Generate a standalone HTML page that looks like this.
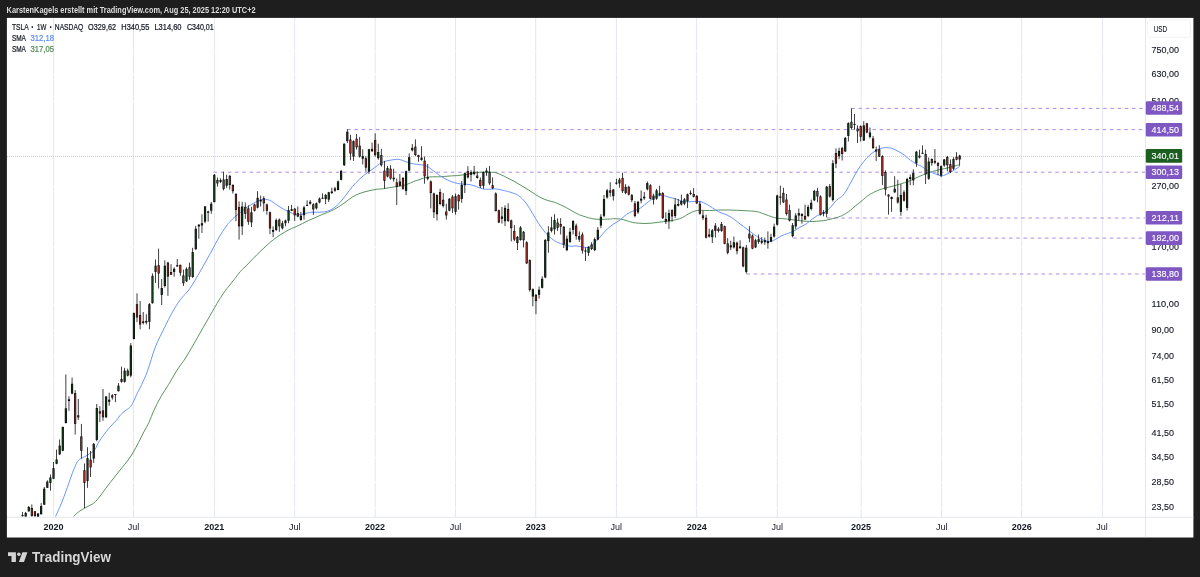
<!DOCTYPE html>
<html lang="de"><head><meta charset="utf-8"><title>TSLA 1W NASDAQ – TradingView</title>
<style>
html,body{margin:0;padding:0;background:#1e1e1e;}
body{width:1200px;height:577px;overflow:hidden;position:relative;font-family:"Liberation Sans", sans-serif;}
</style></head><body>
<svg width="1200" height="577" viewBox="0 0 1200 577" style="position:absolute;left:0;top:0">
<rect x="6.9" y="17.9" width="1186.5" height="519.6" fill="#fff"/>
<line x1="53.6" y1="18" x2="53.6" y2="517" stroke="#e5e7ef" stroke-width="1"/>
<line x1="133.5" y1="18" x2="133.5" y2="517" stroke="#e5e7ef" stroke-width="1"/>
<line x1="214.4" y1="18" x2="214.4" y2="517" stroke="#e5e7ef" stroke-width="1"/>
<line x1="294.7" y1="18" x2="294.7" y2="517" stroke="#e5e7ef" stroke-width="1"/>
<line x1="375.2" y1="18" x2="375.2" y2="517" stroke="#e5e7ef" stroke-width="1"/>
<line x1="455.5" y1="18" x2="455.5" y2="517" stroke="#e5e7ef" stroke-width="1"/>
<line x1="535.7" y1="18" x2="535.7" y2="517" stroke="#e5e7ef" stroke-width="1"/>
<line x1="616.4" y1="18" x2="616.4" y2="517" stroke="#e5e7ef" stroke-width="1"/>
<line x1="696.7" y1="18" x2="696.7" y2="517" stroke="#e5e7ef" stroke-width="1"/>
<line x1="777.3" y1="18" x2="777.3" y2="517" stroke="#e5e7ef" stroke-width="1"/>
<line x1="861.2" y1="18" x2="861.2" y2="517" stroke="#e5e7ef" stroke-width="1"/>
<line x1="941.6" y1="18" x2="941.6" y2="517" stroke="#e5e7ef" stroke-width="1"/>
<line x1="1021.6" y1="18" x2="1021.6" y2="517" stroke="#e5e7ef" stroke-width="1"/>
<line x1="1102.4" y1="18" x2="1102.4" y2="517" stroke="#e5e7ef" stroke-width="1"/>
<line x1="7" y1="51.0" x2="1145" y2="51.0" stroke="#fff" stroke-width="0.9"/>
<line x1="7" y1="74.4" x2="1145" y2="74.4" stroke="#fff" stroke-width="0.9"/>
<line x1="7" y1="101.6" x2="1145" y2="101.6" stroke="#fff" stroke-width="0.9"/>
<line x1="7" y1="186.5" x2="1145" y2="186.5" stroke="#fff" stroke-width="0.9"/>
<line x1="7" y1="247.4" x2="1145" y2="247.4" stroke="#fff" stroke-width="0.9"/>
<line x1="7" y1="304.5" x2="1145" y2="304.5" stroke="#fff" stroke-width="0.9"/>
<line x1="7" y1="330.6" x2="1145" y2="330.6" stroke="#fff" stroke-width="0.9"/>
<line x1="7" y1="356.6" x2="1145" y2="356.6" stroke="#fff" stroke-width="0.9"/>
<line x1="7" y1="381.0" x2="1145" y2="381.0" stroke="#fff" stroke-width="0.9"/>
<line x1="7" y1="404.4" x2="1145" y2="404.4" stroke="#fff" stroke-width="0.9"/>
<line x1="7" y1="433.5" x2="1145" y2="433.5" stroke="#fff" stroke-width="0.9"/>
<line x1="7" y1="457.5" x2="1145" y2="457.5" stroke="#fff" stroke-width="0.9"/>
<line x1="7" y1="482.4" x2="1145" y2="482.4" stroke="#fff" stroke-width="0.9"/>
<line x1="7" y1="507.7" x2="1145" y2="507.7" stroke="#fff" stroke-width="0.9"/>
<line x1="7" y1="517.3" x2="1193.5" y2="517.3" stroke="#dcdfe8" stroke-width="0.8"/>
<line x1="1145.5" y1="18" x2="1145.5" y2="537.5" stroke="#dcdfe8" stroke-width="0.8"/>
<defs><clipPath id="cp"><rect x="7" y="18" width="1139" height="499"/></clipPath></defs>
<g clip-path="url(#cp)">
<line x1="851.4" y1="108.4" x2="1145" y2="108.4" stroke="#a98de3" stroke-width="1" stroke-dasharray="3.5 3.695"/>
<line x1="347.2" y1="129.6" x2="1145" y2="129.6" stroke="#a98de3" stroke-width="1" stroke-dasharray="3.5 3.695"/>
<line x1="213.5" y1="172.2" x2="1145" y2="172.2" stroke="#a98de3" stroke-width="1" stroke-dasharray="3.5 3.695"/>
<line x1="827.0" y1="218.0" x2="1145" y2="218.0" stroke="#a98de3" stroke-width="1" stroke-dasharray="3.5 3.695"/>
<line x1="793.2" y1="238.1" x2="1145" y2="238.1" stroke="#a98de3" stroke-width="1" stroke-dasharray="3.5 3.695"/>
<line x1="746.5" y1="274.0" x2="1145" y2="274.0" stroke="#a98de3" stroke-width="1" stroke-dasharray="3.5 3.695"/>
<line x1="7" y1="156.5" x2="1146" y2="156.5" stroke="#ffc480" stroke-width="1" stroke-dasharray="1 1"/>
<path d="M73.7,516.3 C74.7,515.4 77.7,512.5 79.5,511.2 C81.3,509.9 82.9,509.2 84.6,508.2 C86.3,507.2 88.2,506.2 89.9,505.3 C91.6,504.4 92.8,504.2 94.5,502.6 C96.2,501.1 98.0,498.8 100.2,496.0 C102.4,493.2 105.1,489.2 107.5,486.0 C109.9,482.8 112.3,479.9 114.6,477.0 C116.9,474.1 119.0,471.3 121.3,468.5 C123.6,465.7 126.2,462.8 128.2,460.0 C130.2,457.2 131.7,454.9 133.4,452.0 C135.1,449.1 136.9,445.6 138.6,442.3 C140.3,439.0 142.1,435.3 143.8,432.0 C145.5,428.7 147.3,426.0 149.0,422.4 C150.7,418.8 151.8,414.8 153.8,410.5 C155.8,406.2 158.5,400.8 161.0,396.5 C163.5,392.2 165.9,388.9 168.6,384.5 C171.3,380.1 174.4,374.2 177.1,370.0 C179.8,365.8 182.6,362.6 184.9,359.0 C187.2,355.4 189.0,352.2 191.1,348.7 C193.2,345.1 195.3,341.3 197.4,337.7 C199.5,334.1 201.5,330.4 203.6,326.8 C205.7,323.2 208.0,319.1 209.9,315.9 C211.8,312.6 213.2,310.0 214.8,307.3 C216.4,304.6 217.4,302.6 219.2,299.8 C221.0,297.0 223.7,292.8 225.5,290.3 C227.3,287.8 228.6,286.6 230.0,284.8 C231.4,283.0 232.4,281.6 234.2,279.4 C235.9,277.2 238.7,273.5 240.5,271.4 C242.3,269.3 242.9,269.1 245.0,267.0 C247.1,264.9 250.4,261.3 253.0,258.7 C255.6,256.1 258.0,253.6 260.4,251.3 C262.8,249.0 265.2,246.8 267.4,244.8 C269.6,242.8 271.5,241.1 273.6,239.5 C275.7,237.9 277.8,236.5 279.9,235.1 C282.0,233.7 284.2,232.4 286.1,231.3 C288.0,230.2 289.8,229.3 291.5,228.5 C293.2,227.7 294.4,227.4 296.2,226.6 C298.0,225.8 300.4,224.5 302.5,223.5 C304.6,222.5 306.6,221.4 308.7,220.4 C310.8,219.4 312.9,218.6 315.0,217.7 C317.1,216.8 319.1,215.8 321.2,214.9 C323.3,214.0 325.4,213.3 327.5,212.4 C329.6,211.5 331.6,210.8 333.7,209.7 C335.8,208.6 337.8,207.3 339.9,206.0 C342.0,204.7 344.1,203.1 346.2,201.6 C348.3,200.1 350.3,198.3 352.4,197.0 C354.5,195.7 356.6,194.8 358.7,193.9 C360.8,193.0 362.8,192.4 364.9,191.8 C367.0,191.2 369.0,190.7 371.1,190.3 C373.2,189.9 375.3,189.5 377.4,189.2 C379.5,188.9 381.5,189.0 383.6,188.7 C385.7,188.4 387.8,187.9 389.9,187.6 C392.0,187.3 394.0,187.0 396.1,186.7 C398.2,186.4 400.5,186.0 402.4,185.6 C404.3,185.2 405.6,184.9 407.5,184.2 C409.4,183.5 411.6,182.3 413.7,181.5 C415.8,180.7 417.9,180.2 420.0,179.5 C422.1,178.8 424.1,177.8 426.2,177.4 C428.3,177.0 430.4,176.9 432.5,176.8 C434.6,176.7 436.6,176.9 438.7,176.8 C440.8,176.7 442.8,176.6 444.9,176.4 C447.0,176.2 449.1,176.0 451.2,175.9 C453.3,175.8 455.3,175.8 457.4,175.6 C459.5,175.4 461.6,175.1 463.7,174.8 C465.8,174.5 467.8,174.0 469.9,173.7 C472.0,173.4 474.0,173.1 476.1,172.8 C478.2,172.5 480.3,172.2 482.4,172.1 C484.5,172.0 486.5,172.0 488.6,172.1 C490.7,172.2 492.8,172.1 494.9,172.5 C497.0,172.9 499.0,173.9 501.1,174.8 C503.2,175.7 505.1,176.7 507.4,177.9 C509.7,179.1 512.6,180.5 515.0,181.8 C517.4,183.2 519.7,184.6 522.0,186.0 C524.3,187.4 526.3,188.6 528.6,190.0 C530.9,191.4 533.4,193.3 535.6,194.7 C537.8,196.0 539.7,197.1 541.8,198.1 C543.9,199.1 546.0,199.9 548.1,200.6 C550.2,201.3 552.2,201.5 554.3,202.2 C556.4,202.9 558.4,203.9 560.5,204.8 C562.6,205.8 564.7,206.8 566.8,207.9 C568.9,209.0 570.9,210.4 573.0,211.5 C575.1,212.6 577.2,213.8 579.3,214.7 C581.4,215.6 583.4,216.2 585.5,216.8 C587.6,217.5 589.7,218.2 591.8,218.6 C593.9,219.0 595.9,219.2 598.0,219.3 C600.1,219.4 602.1,219.4 604.2,219.3 C606.3,219.2 608.9,219.1 610.5,219.0 C612.1,218.9 612.1,218.7 613.7,218.7 C615.3,218.7 617.9,218.7 620.0,219.0 C622.1,219.3 624.1,219.9 626.2,220.5 C628.3,221.1 630.4,222.0 632.5,222.4 C634.6,222.8 636.6,223.0 638.7,223.2 C640.8,223.4 642.8,223.5 644.9,223.5 C647.0,223.5 649.1,223.4 651.2,223.2 C653.3,223.0 655.3,222.7 657.4,222.4 C659.5,222.1 661.6,221.8 663.7,221.6 C665.8,221.3 667.8,221.2 669.9,220.9 C672.0,220.6 674.0,220.2 676.1,219.6 C678.2,219.0 680.3,218.6 682.4,217.6 C684.5,216.6 686.5,214.9 688.6,213.8 C690.7,212.7 692.8,211.6 694.9,211.0 C697.0,210.4 698.7,210.4 701.1,210.3 C703.5,210.2 706.5,210.7 709.4,210.6 C712.3,210.5 715.6,210.1 718.7,210.0 C721.8,209.9 725.0,209.9 728.1,210.0 C731.2,210.1 734.4,210.2 737.5,210.3 C740.6,210.4 743.7,210.6 746.8,210.8 C749.9,211.0 753.6,211.1 756.2,211.5 C758.8,211.9 760.3,212.7 762.4,213.4 C764.5,214.1 766.6,215.0 768.7,215.7 C770.8,216.4 772.8,217.3 774.9,217.8 C777.0,218.3 779.0,218.3 781.1,218.5 C783.2,218.7 785.3,218.9 787.4,219.1 C789.5,219.3 791.5,219.6 793.6,219.9 C795.7,220.2 797.8,220.5 799.9,220.7 C802.0,220.9 804.0,221.2 806.1,221.3 C808.2,221.4 810.1,221.6 812.4,221.5 C814.7,221.4 817.6,221.2 819.9,221.0 C822.2,220.8 824.1,220.6 826.2,220.2 C828.3,219.8 830.4,219.2 832.4,218.7 C834.4,218.2 836.8,217.6 838.5,217.0 C840.2,216.4 841.1,216.1 842.5,215.4 C843.9,214.7 845.3,213.8 846.7,212.9 C848.1,212.0 849.4,211.1 850.8,210.0 C852.2,208.9 853.6,207.5 855.0,206.3 C856.4,205.1 857.8,204.0 859.2,202.9 C860.6,201.8 861.9,200.8 863.3,199.6 C864.7,198.4 866.1,197.0 867.5,196.0 C868.9,195.0 870.3,194.2 871.7,193.4 C873.1,192.6 874.2,192.0 876.0,191.2 C877.8,190.4 880.3,189.5 882.4,188.8 C884.5,188.1 886.6,187.7 888.7,187.2 C890.8,186.7 892.9,186.2 895.0,185.6 C897.1,185.0 899.1,184.3 901.2,183.7 C903.3,183.1 905.4,182.6 907.5,181.8 C909.6,181.0 911.6,179.9 913.7,179.0 C915.8,178.1 917.8,177.1 919.9,176.2 C922.0,175.3 924.1,174.4 926.2,173.6 C928.3,172.8 930.3,172.1 932.4,171.5 C934.5,170.9 936.6,170.4 938.7,169.9 C940.8,169.4 942.8,169.1 944.9,168.6 C947.0,168.1 949.0,167.6 951.1,167.0 C953.2,166.4 956.0,165.7 957.4,165.3 C958.8,164.9 959.3,164.9 959.7,164.8" fill="none" stroke="#5a9460" stroke-width="1" stroke-linejoin="round"/>
<path d="M55.6,516.5 C56.7,513.9 60.2,506.4 62.4,500.9 C64.6,495.4 66.8,488.7 68.7,483.5 C70.6,478.3 72.2,473.3 73.7,469.7 C75.2,466.1 76.2,463.5 77.4,461.6 C78.7,459.7 80.0,459.3 81.2,458.5 C82.5,457.7 83.5,457.4 84.9,456.6 C86.4,455.8 88.2,454.7 89.9,453.5 C91.6,452.3 93.3,451.5 94.9,449.4 C96.5,447.3 97.0,444.6 99.3,441.1 C101.6,437.7 105.8,432.2 108.6,428.7 C111.4,425.2 114.4,422.6 116.4,420.3 C118.4,418.0 119.4,416.2 120.8,414.6 C122.2,413.0 123.8,411.8 125.0,410.8 C126.2,409.8 127.3,409.4 128.3,408.6 C129.3,407.8 130.0,407.3 130.8,406.2 C131.6,405.1 132.2,404.2 133.3,402.0 C134.4,399.8 136.1,395.7 137.5,392.8 C138.9,389.9 140.0,388.1 141.7,384.5 C143.4,380.9 145.2,377.2 147.5,371.0 C149.8,364.8 152.5,354.4 155.3,347.1 C158.2,339.8 161.8,333.2 164.6,327.4 C167.4,321.6 169.8,316.8 172.4,312.2 C175.0,307.6 177.6,303.3 180.2,299.8 C182.8,296.3 185.5,294.2 188.0,291.0 C190.5,287.8 192.5,284.4 195.0,280.3 C197.5,276.2 200.4,271.1 203.0,266.5 C205.6,261.9 208.2,257.2 210.8,252.5 C213.4,247.8 216.0,242.4 218.6,238.0 C221.2,233.6 224.5,228.7 226.4,226.0 C228.3,223.3 228.6,223.2 230.0,221.7 C231.4,220.1 233.2,218.3 235.0,216.7 C236.8,215.1 238.9,213.6 240.8,212.1 C242.8,210.6 245.0,208.7 246.7,207.5 C248.4,206.3 249.4,205.6 250.8,204.8 C252.2,204.0 253.6,203.2 255.0,202.5 C256.4,201.8 257.8,201.0 259.2,200.5 C260.6,200.0 261.9,199.5 263.3,199.3 C264.7,199.2 266.1,199.3 267.5,199.6 C268.9,199.9 270.3,200.5 271.7,201.3 C273.1,202.1 274.4,203.2 275.8,204.2 C277.2,205.1 278.6,206.1 280.0,207.0 C281.4,207.9 282.8,208.8 284.2,209.5 C285.6,210.2 286.9,210.7 288.3,211.4 C289.7,212.1 291.1,212.9 292.5,213.5 C293.9,214.1 295.3,214.5 296.7,214.7 C298.1,214.9 299.4,214.8 300.8,214.6 C302.2,214.4 303.6,213.8 305.0,213.5 C306.4,213.2 307.8,212.8 309.2,212.6 C310.6,212.4 311.3,212.3 313.3,212.2 C315.3,212.1 318.8,212.3 321.2,212.1 C323.6,211.9 325.4,211.9 327.5,211.2 C329.6,210.5 331.6,209.5 333.7,208.1 C335.8,206.7 337.8,204.8 339.9,202.6 C342.0,200.4 344.1,197.5 346.2,194.8 C348.3,192.1 350.3,189.0 352.4,186.5 C354.5,184.0 356.6,182.0 358.7,180.0 C360.8,178.0 362.8,176.1 364.9,174.5 C367.0,172.9 369.0,171.7 371.1,170.2 C373.2,168.7 375.6,166.8 377.4,165.5 C379.2,164.2 380.0,163.3 381.8,162.5 C383.6,161.7 385.9,161.1 388.0,160.6 C390.1,160.1 392.6,159.8 394.2,159.6 C395.8,159.4 396.4,159.3 397.5,159.3 C398.6,159.3 399.4,159.4 400.5,159.7 C401.6,160.0 402.7,160.5 404.0,161.0 C405.3,161.5 406.7,162.1 408.3,162.6 C409.9,163.1 411.8,163.6 413.7,163.9 C415.6,164.2 417.9,164.4 420.0,164.7 C422.1,165.0 424.1,165.0 426.2,165.9 C428.3,166.8 430.4,168.6 432.5,170.1 C434.6,171.6 436.6,173.4 438.7,174.8 C440.8,176.2 442.8,177.6 444.9,178.7 C447.0,179.8 449.1,180.7 451.2,181.5 C453.3,182.3 455.3,183.0 457.4,183.4 C459.5,183.8 461.6,184.0 463.7,184.2 C465.8,184.4 467.8,184.2 469.9,184.6 C472.0,185.0 474.0,185.8 476.1,186.5 C478.2,187.2 480.3,188.3 482.4,188.8 C484.5,189.3 486.5,189.3 488.6,189.3 C490.7,189.3 492.8,188.7 494.9,188.8 C497.0,188.9 499.0,189.5 501.1,189.9 C503.2,190.3 505.6,190.9 507.4,191.4 C509.2,191.9 510.2,192.1 512.0,192.8 C513.8,193.5 516.0,193.8 518.4,195.5 C520.8,197.2 523.9,200.3 526.2,203.3 C528.6,206.3 530.4,210.0 532.5,213.4 C534.6,216.8 536.6,220.5 538.7,223.6 C540.8,226.7 542.8,229.6 544.9,232.1 C547.0,234.6 549.1,236.7 551.2,238.4 C553.3,240.1 555.3,241.3 557.4,242.3 C559.5,243.3 561.6,243.9 563.7,244.6 C565.8,245.2 567.8,246.0 569.9,246.2 C572.0,246.4 574.0,245.8 576.1,245.9 C578.2,246.0 580.3,246.8 582.4,247.0 C584.5,247.2 586.5,247.8 588.6,247.0 C590.7,246.2 592.8,244.4 594.9,242.5 C597.0,240.6 599.0,238.1 601.1,235.8 C603.2,233.5 605.3,230.8 607.4,228.8 C609.5,226.8 611.6,225.4 613.7,224.0 C615.8,222.6 617.9,221.7 620.0,220.1 C622.1,218.5 624.1,216.1 626.2,214.6 C628.3,213.1 630.4,212.1 632.5,211.2 C634.6,210.3 636.6,210.3 638.7,209.2 C640.8,208.1 642.8,206.2 644.9,204.6 C647.0,203.0 649.1,201.0 651.2,199.6 C653.3,198.2 655.3,196.6 657.4,195.9 C659.5,195.2 661.6,195.3 663.7,195.6 C665.8,195.9 667.8,196.9 669.9,197.5 C672.0,198.1 674.0,198.3 676.1,199.0 C678.2,199.7 680.3,200.9 682.4,201.4 C684.5,201.9 686.5,201.8 688.6,201.8 C690.7,201.8 692.8,201.4 694.9,201.4 C697.0,201.4 699.2,201.4 701.1,201.8 C703.0,202.2 704.3,203.0 706.2,204.0 C708.1,205.0 710.4,206.6 712.5,207.9 C714.6,209.2 716.6,210.8 718.7,211.8 C720.8,212.9 722.9,213.3 725.0,214.2 C727.1,215.1 729.1,216.0 731.2,217.3 C733.3,218.6 735.4,220.4 737.5,222.0 C739.6,223.6 741.6,225.1 743.7,226.7 C745.8,228.3 747.8,229.8 749.9,231.4 C752.0,233.0 754.1,234.6 756.2,236.0 C758.3,237.4 760.3,238.7 762.4,239.6 C764.5,240.5 766.9,241.3 768.7,241.5 C770.5,241.7 771.2,241.4 773.3,240.5 C775.4,239.6 778.8,237.2 781.1,236.0 C783.5,234.8 785.3,234.4 787.4,233.6 C789.5,232.8 791.5,232.3 793.6,231.2 C795.7,230.1 797.8,228.4 799.9,227.2 C802.0,226.0 804.0,225.4 806.1,224.0 C808.2,222.6 810.5,220.4 812.4,219.0 C814.3,217.6 816.0,216.3 817.5,215.5 C819.0,214.7 820.5,214.6 821.7,214.0 C823.0,213.4 823.9,212.6 825.0,211.8 C826.1,211.1 827.2,210.5 828.3,209.5 C829.4,208.5 830.6,207.3 831.7,206.0 C832.8,204.7 833.9,203.1 835.0,201.9 C836.1,200.7 837.0,199.8 838.3,198.8 C839.5,197.8 841.1,197.4 842.5,195.9 C843.9,194.4 845.3,192.2 846.7,190.0 C848.1,187.8 849.4,185.0 850.8,182.5 C852.1,180.0 853.2,178.0 854.8,175.2 C856.4,172.4 858.5,168.7 860.5,165.8 C862.5,162.9 864.7,160.2 866.8,158.0 C868.9,155.8 870.9,154.0 873.0,152.5 C875.1,151.0 877.2,149.6 879.3,148.8 C881.4,148.0 883.4,147.7 885.5,147.6 C887.6,147.5 889.7,147.8 891.8,148.4 C893.9,149.0 895.9,150.1 898.0,151.2 C900.1,152.3 902.2,153.6 904.3,155.1 C906.4,156.6 908.4,158.8 910.5,160.3 C912.6,161.8 915.2,163.3 916.8,164.2 C918.4,165.1 919.0,165.1 920.0,165.6 C921.0,166.1 922.0,166.6 923.0,167.3 C924.0,168.0 925.0,169.1 926.0,169.8 C927.0,170.5 928.1,171.1 929.2,171.6 C930.3,172.1 931.4,172.3 932.4,172.7 C933.4,173.1 934.5,173.5 935.5,173.9 C936.5,174.3 937.7,174.9 938.7,175.2 C939.8,175.5 940.8,175.9 941.8,175.9 C942.8,175.9 944.0,175.3 945.0,174.9 C946.0,174.5 947.0,174.0 948.0,173.5 C949.0,173.0 950.1,172.5 951.1,171.9 C952.1,171.3 953.3,170.6 954.3,170.0 C955.3,169.4 956.1,168.8 957.0,168.2 C957.9,167.6 959.2,166.6 959.7,166.3" fill="none" stroke="#6a96ff" stroke-width="1" stroke-linejoin="round"/>
<rect x="22.17" y="511.9" width="0.8" height="4.6" fill="#111"/>
<rect x="21.47" y="515.1" width="2.2" height="1.0" fill="#0a0a0a"/>
<rect x="22.17" y="515.4" width="0.8" height="0.4" fill="#143f1a"/>
<rect x="25.27" y="511.9" width="0.8" height="4.6" fill="#111"/>
<rect x="24.57" y="512.9" width="2.2" height="3.6" fill="#0a0a0a"/>
<rect x="25.22" y="513.6" width="0.9" height="2.2" fill="#143f1a"/>
<rect x="28.36" y="506.0" width="0.8" height="5.6" fill="#111"/>
<rect x="27.66" y="507.0" width="2.2" height="4.3" fill="#0a0a0a"/>
<rect x="28.31" y="507.7" width="0.9" height="2.9" fill="#143f1a"/>
<rect x="31.45" y="504.4" width="0.8" height="12.2" fill="#111"/>
<rect x="30.75" y="508.0" width="2.2" height="7.9" fill="#0a0a0a"/>
<rect x="31.40" y="508.7" width="0.9" height="6.5" fill="#ad3128"/>
<rect x="34.54" y="511.0" width="0.8" height="5.4" fill="#111"/>
<rect x="33.84" y="511.3" width="2.2" height="4.9" fill="#0a0a0a"/>
<rect x="34.49" y="512.0" width="0.9" height="3.5" fill="#ad3128"/>
<rect x="37.64" y="512.9" width="0.8" height="3.7" fill="#111"/>
<rect x="36.94" y="513.6" width="2.2" height="3.0" fill="#0a0a0a"/>
<rect x="37.59" y="514.3" width="0.9" height="1.6" fill="#143f1a"/>
<rect x="40.73" y="503.1" width="0.8" height="11.5" fill="#111"/>
<rect x="40.03" y="506.0" width="2.2" height="8.2" fill="#0a0a0a"/>
<rect x="40.68" y="506.7" width="0.9" height="6.8" fill="#143f1a"/>
<rect x="43.82" y="486.9" width="0.8" height="18.0" fill="#111"/>
<rect x="43.12" y="488.7" width="2.2" height="16.0" fill="#0a0a0a"/>
<rect x="43.77" y="489.4" width="0.9" height="14.6" fill="#143f1a"/>
<rect x="46.91" y="480.3" width="0.8" height="7.7" fill="#111"/>
<rect x="46.21" y="481.6" width="2.2" height="6.2" fill="#0a0a0a"/>
<rect x="46.86" y="482.3" width="0.9" height="4.8" fill="#143f1a"/>
<rect x="50.01" y="474.5" width="0.8" height="16.1" fill="#111"/>
<rect x="49.31" y="477.5" width="2.2" height="5.4" fill="#0a0a0a"/>
<rect x="49.96" y="478.2" width="0.9" height="4.0" fill="#143f1a"/>
<rect x="53.10" y="462.0" width="0.8" height="17.0" fill="#111"/>
<rect x="52.40" y="468.2" width="2.2" height="10.5" fill="#0a0a0a"/>
<rect x="53.05" y="468.9" width="0.9" height="9.1" fill="#143f1a"/>
<rect x="56.19" y="449.6" width="0.8" height="14.6" fill="#111"/>
<rect x="55.49" y="459.5" width="2.2" height="4.3" fill="#0a0a0a"/>
<rect x="56.14" y="460.2" width="0.9" height="2.9" fill="#143f1a"/>
<rect x="59.29" y="439.5" width="0.8" height="15.6" fill="#111"/>
<rect x="58.59" y="445.6" width="2.2" height="8.7" fill="#0a0a0a"/>
<rect x="59.24" y="446.3" width="0.9" height="7.3" fill="#143f1a"/>
<rect x="62.38" y="426.5" width="0.8" height="24.8" fill="#111"/>
<rect x="61.68" y="427.0" width="2.2" height="23.7" fill="#0a0a0a"/>
<rect x="62.33" y="427.7" width="0.9" height="22.3" fill="#143f1a"/>
<rect x="65.47" y="374.5" width="0.8" height="49.0" fill="#111"/>
<rect x="64.77" y="408.3" width="2.2" height="14.7" fill="#0a0a0a"/>
<rect x="65.42" y="409.0" width="0.9" height="13.3" fill="#143f1a"/>
<rect x="68.56" y="396.2" width="0.8" height="14.7" fill="#111"/>
<rect x="67.86" y="399.3" width="2.2" height="1.7" fill="#0a0a0a"/>
<rect x="68.51" y="400.0" width="0.9" height="0.3" fill="#143f1a"/>
<rect x="71.66" y="377.5" width="0.8" height="16.6" fill="#111"/>
<rect x="70.96" y="383.7" width="2.2" height="9.9" fill="#0a0a0a"/>
<rect x="71.61" y="384.4" width="0.9" height="8.5" fill="#143f1a"/>
<rect x="74.75" y="390.1" width="0.8" height="44.5" fill="#111"/>
<rect x="74.05" y="393.1" width="2.2" height="30.8" fill="#0a0a0a"/>
<rect x="74.70" y="393.8" width="0.9" height="29.4" fill="#ad3128"/>
<rect x="77.84" y="398.8" width="0.8" height="21.3" fill="#111"/>
<rect x="77.14" y="415.3" width="2.2" height="2.1" fill="#0a0a0a"/>
<rect x="77.79" y="416.0" width="0.9" height="0.7" fill="#ad3128"/>
<rect x="80.93" y="423.9" width="0.8" height="34.7" fill="#111"/>
<rect x="80.23" y="436.4" width="2.2" height="14.4" fill="#0a0a0a"/>
<rect x="80.88" y="437.1" width="0.9" height="13.0" fill="#ad3128"/>
<rect x="84.03" y="463.5" width="0.8" height="44.6" fill="#111"/>
<rect x="83.33" y="470.3" width="2.2" height="12.5" fill="#0a0a0a"/>
<rect x="83.98" y="471.0" width="0.9" height="11.1" fill="#ad3128"/>
<rect x="87.12" y="447.2" width="0.8" height="40.6" fill="#111"/>
<rect x="86.42" y="458.1" width="2.2" height="22.8" fill="#0a0a0a"/>
<rect x="87.07" y="458.8" width="0.9" height="21.4" fill="#143f1a"/>
<rect x="90.21" y="451.0" width="0.8" height="26.0" fill="#111"/>
<rect x="89.51" y="459.7" width="2.2" height="7.7" fill="#0a0a0a"/>
<rect x="90.16" y="460.4" width="0.9" height="6.3" fill="#ad3128"/>
<rect x="93.31" y="443.0" width="0.8" height="19.9" fill="#111"/>
<rect x="92.61" y="443.9" width="2.2" height="14.7" fill="#0a0a0a"/>
<rect x="93.26" y="444.6" width="0.9" height="13.3" fill="#143f1a"/>
<rect x="96.40" y="404.0" width="0.8" height="37.3" fill="#111"/>
<rect x="95.70" y="408.0" width="2.2" height="31.9" fill="#0a0a0a"/>
<rect x="96.35" y="408.7" width="0.9" height="30.5" fill="#143f1a"/>
<rect x="99.49" y="406.2" width="0.8" height="15.9" fill="#111"/>
<rect x="98.79" y="411.4" width="2.2" height="2.1" fill="#0a0a0a"/>
<rect x="99.44" y="412.1" width="0.9" height="0.7" fill="#ad3128"/>
<rect x="102.58" y="388.9" width="0.8" height="31.9" fill="#111"/>
<rect x="101.88" y="410.4" width="2.2" height="6.9" fill="#0a0a0a"/>
<rect x="102.53" y="411.1" width="0.9" height="5.5" fill="#ad3128"/>
<rect x="105.68" y="396.2" width="0.8" height="21.7" fill="#111"/>
<rect x="104.98" y="396.5" width="2.2" height="20.8" fill="#0a0a0a"/>
<rect x="105.63" y="397.2" width="0.9" height="19.4" fill="#143f1a"/>
<rect x="108.77" y="392.7" width="0.8" height="13.0" fill="#111"/>
<rect x="108.07" y="399.7" width="2.2" height="2.1" fill="#0a0a0a"/>
<rect x="108.72" y="400.4" width="0.9" height="0.7" fill="#143f1a"/>
<rect x="111.86" y="394.1" width="0.8" height="5.5" fill="#111"/>
<rect x="111.16" y="395.3" width="2.2" height="2.3" fill="#0a0a0a"/>
<rect x="111.81" y="396.0" width="0.9" height="0.9" fill="#ad3128"/>
<rect x="114.95" y="394.1" width="0.8" height="8.1" fill="#111"/>
<rect x="114.25" y="394.0" width="2.2" height="1.0" fill="#0a0a0a"/>
<rect x="114.95" y="394.3" width="0.8" height="0.4" fill="#143f1a"/>
<rect x="118.05" y="383.1" width="0.8" height="8.4" fill="#111"/>
<rect x="117.35" y="385.7" width="2.2" height="5.5" fill="#0a0a0a"/>
<rect x="118.00" y="386.4" width="0.9" height="4.1" fill="#143f1a"/>
<rect x="121.14" y="366.6" width="0.8" height="16.1" fill="#111"/>
<rect x="120.44" y="379.0" width="2.2" height="2.8" fill="#0a0a0a"/>
<rect x="121.09" y="379.7" width="0.9" height="1.4" fill="#143f1a"/>
<rect x="124.23" y="367.8" width="0.8" height="14.8" fill="#111"/>
<rect x="123.53" y="370.6" width="2.2" height="11.2" fill="#0a0a0a"/>
<rect x="124.18" y="371.3" width="0.9" height="9.8" fill="#143f1a"/>
<rect x="127.32" y="368.6" width="0.8" height="7.8" fill="#111"/>
<rect x="126.62" y="370.6" width="2.2" height="5.0" fill="#0a0a0a"/>
<rect x="127.27" y="371.3" width="0.9" height="3.6" fill="#ad3128"/>
<rect x="130.42" y="343.1" width="0.8" height="34.3" fill="#111"/>
<rect x="129.72" y="345.5" width="2.2" height="30.1" fill="#0a0a0a"/>
<rect x="130.37" y="346.2" width="0.9" height="28.7" fill="#143f1a"/>
<rect x="133.51" y="312.5" width="0.8" height="26.8" fill="#111"/>
<rect x="132.81" y="313.1" width="2.2" height="25.9" fill="#0a0a0a"/>
<rect x="133.46" y="313.8" width="0.9" height="24.5" fill="#143f1a"/>
<rect x="136.60" y="293.3" width="0.8" height="28.9" fill="#111"/>
<rect x="135.90" y="304.2" width="2.2" height="13.3" fill="#0a0a0a"/>
<rect x="136.55" y="304.9" width="0.9" height="11.9" fill="#ad3128"/>
<rect x="139.70" y="301.1" width="0.8" height="28.1" fill="#111"/>
<rect x="139.00" y="315.1" width="2.2" height="9.4" fill="#0a0a0a"/>
<rect x="139.65" y="315.8" width="0.9" height="8.0" fill="#ad3128"/>
<rect x="142.79" y="312.0" width="0.8" height="12.5" fill="#111"/>
<rect x="142.09" y="321.4" width="2.2" height="1.6" fill="#0a0a0a"/>
<rect x="142.74" y="322.1" width="0.9" height="0.2" fill="#143f1a"/>
<rect x="145.88" y="314.3" width="0.8" height="10.1" fill="#111"/>
<rect x="145.18" y="320.9" width="2.2" height="1.6" fill="#0a0a0a"/>
<rect x="145.83" y="321.6" width="0.9" height="0.2" fill="#143f1a"/>
<rect x="148.97" y="303.1" width="0.8" height="26.1" fill="#111"/>
<rect x="148.27" y="304.2" width="2.2" height="17.6" fill="#0a0a0a"/>
<rect x="148.92" y="304.9" width="0.9" height="16.2" fill="#143f1a"/>
<rect x="152.07" y="273.5" width="0.8" height="30.1" fill="#111"/>
<rect x="151.37" y="275.9" width="2.2" height="27.3" fill="#0a0a0a"/>
<rect x="152.02" y="276.6" width="0.9" height="25.9" fill="#143f1a"/>
<rect x="155.16" y="259.5" width="0.8" height="23.4" fill="#111"/>
<rect x="154.46" y="265.7" width="2.2" height="6.2" fill="#0a0a0a"/>
<rect x="155.11" y="266.4" width="0.9" height="4.8" fill="#143f1a"/>
<rect x="158.25" y="248.6" width="0.8" height="39.8" fill="#111"/>
<rect x="157.55" y="265.2" width="2.2" height="8.3" fill="#0a0a0a"/>
<rect x="158.20" y="265.9" width="0.9" height="6.9" fill="#ad3128"/>
<rect x="161.34" y="279.0" width="0.8" height="26.1" fill="#111"/>
<rect x="160.64" y="288.0" width="2.2" height="6.9" fill="#0a0a0a"/>
<rect x="161.29" y="288.7" width="0.9" height="5.5" fill="#143f1a"/>
<rect x="164.44" y="260.3" width="0.8" height="27.3" fill="#111"/>
<rect x="163.74" y="265.7" width="2.2" height="20.3" fill="#0a0a0a"/>
<rect x="164.39" y="266.4" width="0.9" height="18.9" fill="#143f1a"/>
<rect x="167.53" y="261.8" width="0.8" height="34.0" fill="#111"/>
<rect x="166.83" y="262.6" width="2.2" height="14.0" fill="#0a0a0a"/>
<rect x="167.48" y="263.3" width="0.9" height="12.6" fill="#ad3128"/>
<rect x="170.62" y="264.2" width="0.8" height="10.9" fill="#111"/>
<rect x="169.92" y="272.0" width="2.2" height="2.7" fill="#0a0a0a"/>
<rect x="170.57" y="272.7" width="0.9" height="1.3" fill="#ad3128"/>
<rect x="173.72" y="267.3" width="0.8" height="9.4" fill="#111"/>
<rect x="173.02" y="268.8" width="2.2" height="3.1" fill="#0a0a0a"/>
<rect x="173.67" y="269.5" width="0.9" height="1.7" fill="#143f1a"/>
<rect x="176.81" y="259.0" width="0.8" height="7.8" fill="#111"/>
<rect x="176.11" y="265.2" width="2.2" height="1.2" fill="#0a0a0a"/>
<rect x="176.81" y="265.5" width="0.8" height="0.6" fill="#143f1a"/>
<rect x="179.90" y="264.6" width="0.8" height="11.2" fill="#111"/>
<rect x="179.20" y="264.9" width="2.2" height="7.8" fill="#0a0a0a"/>
<rect x="179.85" y="265.6" width="0.9" height="6.4" fill="#ad3128"/>
<rect x="182.99" y="269.6" width="0.8" height="16.4" fill="#111"/>
<rect x="182.29" y="275.5" width="2.2" height="7.8" fill="#0a0a0a"/>
<rect x="182.94" y="276.2" width="0.9" height="6.4" fill="#ad3128"/>
<rect x="186.09" y="267.3" width="0.8" height="14.8" fill="#111"/>
<rect x="185.39" y="268.8" width="2.2" height="12.5" fill="#0a0a0a"/>
<rect x="186.04" y="269.5" width="0.9" height="11.1" fill="#143f1a"/>
<rect x="189.18" y="262.6" width="0.8" height="17.2" fill="#111"/>
<rect x="188.48" y="267.3" width="2.2" height="9.4" fill="#0a0a0a"/>
<rect x="189.13" y="268.0" width="0.9" height="8.0" fill="#ad3128"/>
<rect x="192.27" y="247.8" width="0.8" height="30.0" fill="#111"/>
<rect x="191.57" y="252.1" width="2.2" height="25.0" fill="#0a0a0a"/>
<rect x="192.22" y="252.8" width="0.9" height="23.6" fill="#143f1a"/>
<rect x="195.36" y="225.9" width="0.8" height="23.7" fill="#111"/>
<rect x="194.66" y="228.7" width="2.2" height="20.6" fill="#0a0a0a"/>
<rect x="195.31" y="229.4" width="0.9" height="19.2" fill="#143f1a"/>
<rect x="198.46" y="224.0" width="0.8" height="14.8" fill="#111"/>
<rect x="197.76" y="224.8" width="2.2" height="1.6" fill="#0a0a0a"/>
<rect x="198.41" y="225.5" width="0.9" height="0.2" fill="#143f1a"/>
<rect x="201.55" y="214.3" width="0.8" height="18.7" fill="#111"/>
<rect x="200.85" y="223.2" width="2.2" height="2.3" fill="#0a0a0a"/>
<rect x="201.50" y="223.9" width="0.9" height="0.9" fill="#143f1a"/>
<rect x="204.64" y="206.0" width="0.8" height="17.2" fill="#111"/>
<rect x="203.94" y="206.5" width="2.2" height="15.1" fill="#0a0a0a"/>
<rect x="204.59" y="207.2" width="0.9" height="13.7" fill="#143f1a"/>
<rect x="207.73" y="210.7" width="0.8" height="10.9" fill="#111"/>
<rect x="207.03" y="211.5" width="2.2" height="1.2" fill="#0a0a0a"/>
<rect x="207.73" y="211.8" width="0.8" height="0.6" fill="#143f1a"/>
<rect x="210.83" y="201.8" width="0.8" height="12.0" fill="#111"/>
<rect x="210.13" y="203.7" width="2.2" height="7.0" fill="#0a0a0a"/>
<rect x="210.78" y="204.4" width="0.9" height="5.6" fill="#143f1a"/>
<rect x="213.92" y="174.0" width="0.8" height="28.4" fill="#111"/>
<rect x="213.22" y="174.8" width="2.2" height="27.3" fill="#0a0a0a"/>
<rect x="213.87" y="175.5" width="0.9" height="25.9" fill="#143f1a"/>
<rect x="217.01" y="177.5" width="0.8" height="9.1" fill="#111"/>
<rect x="216.31" y="180.0" width="2.2" height="3.4" fill="#0a0a0a"/>
<rect x="216.96" y="180.7" width="0.9" height="2.0" fill="#ad3128"/>
<rect x="220.11" y="178.4" width="0.8" height="4.7" fill="#111"/>
<rect x="219.41" y="180.0" width="2.2" height="1.9" fill="#0a0a0a"/>
<rect x="220.06" y="180.7" width="0.9" height="0.5" fill="#143f1a"/>
<rect x="223.20" y="171.7" width="0.8" height="18.7" fill="#111"/>
<rect x="222.50" y="179.5" width="2.2" height="9.4" fill="#0a0a0a"/>
<rect x="223.15" y="180.2" width="0.9" height="8.0" fill="#ad3128"/>
<rect x="226.29" y="174.8" width="0.8" height="13.3" fill="#111"/>
<rect x="225.59" y="179.0" width="2.2" height="6.7" fill="#0a0a0a"/>
<rect x="226.24" y="179.7" width="0.9" height="5.3" fill="#143f1a"/>
<rect x="229.38" y="174.8" width="0.8" height="14.8" fill="#111"/>
<rect x="228.68" y="175.9" width="2.2" height="9.1" fill="#0a0a0a"/>
<rect x="229.33" y="176.6" width="0.9" height="7.7" fill="#ad3128"/>
<rect x="232.48" y="184.2" width="0.8" height="9.4" fill="#111"/>
<rect x="231.78" y="185.0" width="2.2" height="6.2" fill="#0a0a0a"/>
<rect x="232.43" y="185.7" width="0.9" height="4.8" fill="#ad3128"/>
<rect x="235.57" y="193.1" width="0.8" height="28.1" fill="#111"/>
<rect x="234.87" y="194.0" width="2.2" height="15.9" fill="#0a0a0a"/>
<rect x="235.52" y="194.7" width="0.9" height="14.5" fill="#ad3128"/>
<rect x="238.66" y="201.4" width="0.8" height="38.2" fill="#111"/>
<rect x="237.96" y="207.1" width="2.2" height="19.2" fill="#0a0a0a"/>
<rect x="238.61" y="207.8" width="0.9" height="17.8" fill="#ad3128"/>
<rect x="241.75" y="201.8" width="0.8" height="33.1" fill="#111"/>
<rect x="241.05" y="206.5" width="2.2" height="19.8" fill="#0a0a0a"/>
<rect x="241.70" y="207.2" width="0.9" height="18.4" fill="#143f1a"/>
<rect x="244.85" y="202.4" width="0.8" height="16.5" fill="#111"/>
<rect x="244.15" y="206.8" width="2.2" height="7.0" fill="#0a0a0a"/>
<rect x="244.80" y="207.5" width="0.9" height="5.6" fill="#ad3128"/>
<rect x="247.94" y="205.3" width="0.8" height="19.5" fill="#111"/>
<rect x="247.24" y="208.4" width="2.2" height="13.3" fill="#0a0a0a"/>
<rect x="247.89" y="209.1" width="0.9" height="11.9" fill="#ad3128"/>
<rect x="251.03" y="206.8" width="0.8" height="20.3" fill="#111"/>
<rect x="250.33" y="212.3" width="2.2" height="10.1" fill="#0a0a0a"/>
<rect x="250.98" y="213.0" width="0.9" height="8.7" fill="#143f1a"/>
<rect x="254.13" y="203.7" width="0.8" height="7.8" fill="#111"/>
<rect x="253.43" y="204.5" width="2.2" height="6.2" fill="#0a0a0a"/>
<rect x="254.08" y="205.2" width="0.9" height="4.8" fill="#ad3128"/>
<rect x="257.22" y="191.2" width="0.8" height="17.2" fill="#111"/>
<rect x="256.52" y="197.8" width="2.2" height="9.8" fill="#0a0a0a"/>
<rect x="257.17" y="198.5" width="0.9" height="8.4" fill="#143f1a"/>
<rect x="260.31" y="195.6" width="0.8" height="10.9" fill="#111"/>
<rect x="259.61" y="199.8" width="2.2" height="1.6" fill="#0a0a0a"/>
<rect x="260.26" y="200.5" width="0.9" height="0.2" fill="#143f1a"/>
<rect x="263.40" y="196.2" width="0.8" height="15.3" fill="#111"/>
<rect x="262.70" y="198.2" width="2.2" height="5.1" fill="#0a0a0a"/>
<rect x="263.35" y="198.9" width="0.9" height="3.7" fill="#ad3128"/>
<rect x="266.50" y="203.7" width="0.8" height="10.9" fill="#111"/>
<rect x="265.80" y="204.5" width="2.2" height="6.2" fill="#0a0a0a"/>
<rect x="266.45" y="205.2" width="0.9" height="4.8" fill="#ad3128"/>
<rect x="269.59" y="211.5" width="0.8" height="22.6" fill="#111"/>
<rect x="268.89" y="212.3" width="2.2" height="16.1" fill="#0a0a0a"/>
<rect x="269.54" y="213.0" width="0.9" height="14.7" fill="#ad3128"/>
<rect x="272.68" y="226.3" width="0.8" height="10.9" fill="#111"/>
<rect x="271.98" y="229.9" width="2.2" height="1.9" fill="#0a0a0a"/>
<rect x="272.63" y="230.6" width="0.9" height="0.5" fill="#143f1a"/>
<rect x="275.77" y="218.5" width="0.8" height="12.5" fill="#111"/>
<rect x="275.07" y="220.1" width="2.2" height="9.8" fill="#0a0a0a"/>
<rect x="275.72" y="220.8" width="0.9" height="8.4" fill="#143f1a"/>
<rect x="278.87" y="218.5" width="0.8" height="13.3" fill="#111"/>
<rect x="278.17" y="219.6" width="2.2" height="6.7" fill="#0a0a0a"/>
<rect x="278.82" y="220.3" width="0.9" height="5.3" fill="#ad3128"/>
<rect x="281.96" y="220.9" width="0.8" height="8.6" fill="#111"/>
<rect x="281.26" y="223.2" width="2.2" height="5.1" fill="#0a0a0a"/>
<rect x="281.91" y="223.9" width="0.9" height="3.7" fill="#143f1a"/>
<rect x="285.05" y="219.6" width="0.8" height="6.7" fill="#111"/>
<rect x="284.35" y="220.5" width="2.2" height="2.7" fill="#0a0a0a"/>
<rect x="285.00" y="221.2" width="0.9" height="1.3" fill="#143f1a"/>
<rect x="288.15" y="206.0" width="0.8" height="17.2" fill="#111"/>
<rect x="287.45" y="210.2" width="2.2" height="10.6" fill="#0a0a0a"/>
<rect x="288.10" y="210.9" width="0.9" height="9.2" fill="#143f1a"/>
<rect x="291.24" y="204.8" width="0.8" height="6.2" fill="#111"/>
<rect x="290.54" y="209.2" width="2.2" height="1.6" fill="#0a0a0a"/>
<rect x="291.19" y="209.9" width="0.9" height="0.2" fill="#143f1a"/>
<rect x="294.33" y="207.9" width="0.8" height="13.0" fill="#111"/>
<rect x="293.63" y="208.7" width="2.2" height="6.6" fill="#0a0a0a"/>
<rect x="294.28" y="209.4" width="0.9" height="5.2" fill="#ad3128"/>
<rect x="297.42" y="206.4" width="0.8" height="10.9" fill="#111"/>
<rect x="296.72" y="213.1" width="2.2" height="3.4" fill="#0a0a0a"/>
<rect x="297.37" y="213.8" width="0.9" height="2.0" fill="#ad3128"/>
<rect x="300.52" y="211.8" width="0.8" height="9.1" fill="#111"/>
<rect x="299.82" y="215.7" width="2.2" height="4.2" fill="#0a0a0a"/>
<rect x="300.47" y="216.4" width="0.9" height="2.8" fill="#143f1a"/>
<rect x="303.61" y="205.9" width="0.8" height="13.7" fill="#111"/>
<rect x="302.91" y="207.4" width="2.2" height="7.8" fill="#0a0a0a"/>
<rect x="303.56" y="208.1" width="0.9" height="6.4" fill="#143f1a"/>
<rect x="306.70" y="200.3" width="0.8" height="5.6" fill="#111"/>
<rect x="306.00" y="204.9" width="2.2" height="1.0" fill="#0a0a0a"/>
<rect x="306.70" y="205.2" width="0.8" height="0.4" fill="#143f1a"/>
<rect x="309.79" y="200.1" width="0.8" height="4.5" fill="#111"/>
<rect x="309.09" y="201.8" width="2.2" height="1.9" fill="#0a0a0a"/>
<rect x="309.74" y="202.5" width="0.9" height="0.5" fill="#143f1a"/>
<rect x="312.89" y="203.2" width="0.8" height="11.7" fill="#111"/>
<rect x="312.19" y="204.3" width="2.2" height="5.1" fill="#0a0a0a"/>
<rect x="312.84" y="205.0" width="0.9" height="3.7" fill="#ad3128"/>
<rect x="315.98" y="202.5" width="0.8" height="7.0" fill="#111"/>
<rect x="315.28" y="203.2" width="2.2" height="5.1" fill="#0a0a0a"/>
<rect x="315.93" y="203.9" width="0.9" height="3.7" fill="#143f1a"/>
<rect x="319.07" y="197.5" width="0.8" height="5.8" fill="#111"/>
<rect x="318.37" y="198.6" width="2.2" height="3.9" fill="#0a0a0a"/>
<rect x="319.02" y="199.3" width="0.9" height="2.5" fill="#143f1a"/>
<rect x="322.16" y="193.4" width="0.8" height="5.6" fill="#111"/>
<rect x="321.46" y="197.7" width="2.2" height="1.0" fill="#0a0a0a"/>
<rect x="322.16" y="198.0" width="0.8" height="0.4" fill="#143f1a"/>
<rect x="325.26" y="193.9" width="0.8" height="10.1" fill="#111"/>
<rect x="324.56" y="195.0" width="2.2" height="4.1" fill="#0a0a0a"/>
<rect x="325.21" y="195.7" width="0.9" height="2.7" fill="#143f1a"/>
<rect x="328.35" y="191.8" width="0.8" height="10.3" fill="#111"/>
<rect x="327.65" y="192.3" width="2.2" height="7.3" fill="#0a0a0a"/>
<rect x="328.30" y="193.0" width="0.9" height="5.9" fill="#143f1a"/>
<rect x="331.44" y="187.6" width="0.8" height="6.2" fill="#111"/>
<rect x="330.74" y="191.5" width="2.2" height="1.6" fill="#0a0a0a"/>
<rect x="331.39" y="192.2" width="0.9" height="0.2" fill="#143f1a"/>
<rect x="334.54" y="186.8" width="0.8" height="5.0" fill="#111"/>
<rect x="333.84" y="188.4" width="2.2" height="2.3" fill="#0a0a0a"/>
<rect x="334.49" y="189.1" width="0.9" height="0.9" fill="#ad3128"/>
<rect x="337.63" y="180.6" width="0.8" height="9.7" fill="#111"/>
<rect x="336.93" y="181.4" width="2.2" height="8.6" fill="#0a0a0a"/>
<rect x="337.58" y="182.1" width="0.9" height="7.2" fill="#143f1a"/>
<rect x="340.72" y="170.0" width="0.8" height="10.3" fill="#111"/>
<rect x="340.02" y="170.9" width="2.2" height="8.9" fill="#0a0a0a"/>
<rect x="340.67" y="171.6" width="0.9" height="7.5" fill="#143f1a"/>
<rect x="343.81" y="143.4" width="0.8" height="22.6" fill="#111"/>
<rect x="343.11" y="143.7" width="2.2" height="21.5" fill="#0a0a0a"/>
<rect x="343.76" y="144.4" width="0.9" height="20.1" fill="#143f1a"/>
<rect x="346.91" y="129.1" width="0.8" height="14.0" fill="#111"/>
<rect x="346.21" y="131.7" width="2.2" height="9.4" fill="#0a0a0a"/>
<rect x="346.86" y="132.4" width="0.9" height="8.0" fill="#143f1a"/>
<rect x="350.00" y="134.8" width="0.8" height="25.4" fill="#111"/>
<rect x="349.30" y="139.5" width="2.2" height="14.0" fill="#0a0a0a"/>
<rect x="349.95" y="140.2" width="0.9" height="12.6" fill="#ad3128"/>
<rect x="353.09" y="140.3" width="0.8" height="20.6" fill="#111"/>
<rect x="352.39" y="141.1" width="2.2" height="15.6" fill="#0a0a0a"/>
<rect x="353.04" y="141.8" width="0.9" height="14.2" fill="#143f1a"/>
<rect x="356.18" y="134.0" width="0.8" height="15.6" fill="#111"/>
<rect x="355.48" y="138.7" width="2.2" height="8.6" fill="#0a0a0a"/>
<rect x="356.13" y="139.4" width="0.9" height="7.2" fill="#ad3128"/>
<rect x="359.28" y="136.9" width="0.8" height="20.6" fill="#111"/>
<rect x="358.58" y="145.7" width="2.2" height="10.9" fill="#0a0a0a"/>
<rect x="359.23" y="146.4" width="0.9" height="9.5" fill="#ad3128"/>
<rect x="362.37" y="149.3" width="0.8" height="15.1" fill="#111"/>
<rect x="361.67" y="156.2" width="2.2" height="2.5" fill="#0a0a0a"/>
<rect x="362.32" y="156.9" width="0.9" height="1.1" fill="#143f1a"/>
<rect x="365.46" y="156.2" width="0.8" height="15.3" fill="#111"/>
<rect x="364.76" y="158.2" width="2.2" height="9.4" fill="#0a0a0a"/>
<rect x="365.41" y="158.9" width="0.9" height="8.0" fill="#ad3128"/>
<rect x="368.56" y="148.9" width="0.8" height="25.0" fill="#111"/>
<rect x="367.86" y="149.3" width="2.2" height="22.2" fill="#0a0a0a"/>
<rect x="368.51" y="150.0" width="0.9" height="20.8" fill="#143f1a"/>
<rect x="371.65" y="142.6" width="0.8" height="9.4" fill="#111"/>
<rect x="370.95" y="148.9" width="2.2" height="2.3" fill="#0a0a0a"/>
<rect x="371.60" y="149.6" width="0.9" height="0.9" fill="#ad3128"/>
<rect x="374.74" y="133.3" width="0.8" height="23.4" fill="#111"/>
<rect x="374.04" y="140.0" width="2.2" height="15.1" fill="#0a0a0a"/>
<rect x="374.69" y="140.7" width="0.9" height="13.7" fill="#ad3128"/>
<rect x="377.83" y="143.7" width="0.8" height="16.1" fill="#111"/>
<rect x="377.13" y="152.0" width="2.2" height="6.2" fill="#0a0a0a"/>
<rect x="377.78" y="152.7" width="0.9" height="4.8" fill="#143f1a"/>
<rect x="380.93" y="148.9" width="0.8" height="17.6" fill="#111"/>
<rect x="380.23" y="155.1" width="2.2" height="10.1" fill="#0a0a0a"/>
<rect x="380.88" y="155.8" width="0.9" height="8.7" fill="#ad3128"/>
<rect x="384.02" y="160.9" width="0.8" height="27.8" fill="#111"/>
<rect x="383.32" y="170.7" width="2.2" height="10.1" fill="#0a0a0a"/>
<rect x="383.97" y="171.4" width="0.9" height="8.7" fill="#ad3128"/>
<rect x="387.11" y="166.0" width="0.8" height="11.4" fill="#111"/>
<rect x="386.41" y="168.1" width="2.2" height="8.4" fill="#0a0a0a"/>
<rect x="387.06" y="168.8" width="0.9" height="7.0" fill="#143f1a"/>
<rect x="390.20" y="165.3" width="0.8" height="14.4" fill="#111"/>
<rect x="389.50" y="168.7" width="2.2" height="9.8" fill="#0a0a0a"/>
<rect x="390.15" y="169.4" width="0.9" height="8.4" fill="#ad3128"/>
<rect x="393.30" y="168.7" width="0.8" height="13.0" fill="#111"/>
<rect x="392.60" y="177.7" width="2.2" height="1.6" fill="#0a0a0a"/>
<rect x="393.25" y="178.4" width="0.9" height="0.2" fill="#143f1a"/>
<rect x="396.39" y="178.5" width="0.8" height="26.5" fill="#111"/>
<rect x="395.69" y="182.4" width="2.2" height="4.4" fill="#0a0a0a"/>
<rect x="396.34" y="183.1" width="0.9" height="3.0" fill="#ad3128"/>
<rect x="399.48" y="174.0" width="0.8" height="12.5" fill="#111"/>
<rect x="398.78" y="181.5" width="2.2" height="4.2" fill="#0a0a0a"/>
<rect x="399.43" y="182.2" width="0.9" height="2.8" fill="#143f1a"/>
<rect x="402.58" y="177.1" width="0.8" height="12.8" fill="#111"/>
<rect x="401.88" y="177.9" width="2.2" height="10.9" fill="#0a0a0a"/>
<rect x="402.53" y="178.6" width="0.9" height="9.5" fill="#ad3128"/>
<rect x="405.67" y="170.6" width="0.8" height="24.5" fill="#111"/>
<rect x="404.97" y="171.2" width="2.2" height="19.7" fill="#0a0a0a"/>
<rect x="405.62" y="171.9" width="0.9" height="18.3" fill="#143f1a"/>
<rect x="408.76" y="153.4" width="0.8" height="17.8" fill="#111"/>
<rect x="408.06" y="157.2" width="2.2" height="13.4" fill="#0a0a0a"/>
<rect x="408.71" y="157.9" width="0.9" height="12.0" fill="#143f1a"/>
<rect x="411.85" y="144.1" width="0.8" height="7.3" fill="#111"/>
<rect x="411.15" y="147.8" width="2.2" height="2.5" fill="#0a0a0a"/>
<rect x="411.80" y="148.5" width="0.9" height="1.1" fill="#143f1a"/>
<rect x="414.95" y="139.4" width="0.8" height="16.7" fill="#111"/>
<rect x="414.25" y="146.7" width="2.2" height="8.3" fill="#0a0a0a"/>
<rect x="414.90" y="147.4" width="0.9" height="6.9" fill="#ad3128"/>
<rect x="418.04" y="154.8" width="0.8" height="6.9" fill="#111"/>
<rect x="417.34" y="155.1" width="2.2" height="2.0" fill="#0a0a0a"/>
<rect x="417.99" y="155.8" width="0.9" height="0.6" fill="#ad3128"/>
<rect x="421.13" y="146.2" width="0.8" height="14.5" fill="#111"/>
<rect x="420.43" y="157.6" width="2.2" height="2.3" fill="#0a0a0a"/>
<rect x="421.08" y="158.3" width="0.9" height="0.9" fill="#143f1a"/>
<rect x="424.22" y="156.5" width="0.8" height="27.2" fill="#111"/>
<rect x="423.52" y="160.7" width="2.2" height="15.6" fill="#0a0a0a"/>
<rect x="424.17" y="161.4" width="0.9" height="14.2" fill="#ad3128"/>
<rect x="427.32" y="163.9" width="0.8" height="16.4" fill="#111"/>
<rect x="426.62" y="177.1" width="2.2" height="1.6" fill="#0a0a0a"/>
<rect x="427.27" y="177.8" width="0.9" height="0.2" fill="#143f1a"/>
<rect x="430.41" y="180.3" width="0.8" height="28.1" fill="#111"/>
<rect x="429.71" y="181.5" width="2.2" height="11.5" fill="#0a0a0a"/>
<rect x="430.36" y="182.2" width="0.9" height="10.1" fill="#ad3128"/>
<rect x="433.50" y="192.7" width="0.8" height="25.3" fill="#111"/>
<rect x="432.80" y="193.5" width="2.2" height="18.7" fill="#0a0a0a"/>
<rect x="433.45" y="194.2" width="0.9" height="17.3" fill="#ad3128"/>
<rect x="436.59" y="194.3" width="0.8" height="26.2" fill="#111"/>
<rect x="435.89" y="195.1" width="2.2" height="19.2" fill="#0a0a0a"/>
<rect x="436.54" y="195.8" width="0.9" height="17.8" fill="#143f1a"/>
<rect x="439.69" y="188.8" width="0.8" height="16.4" fill="#111"/>
<rect x="438.99" y="192.0" width="2.2" height="12.0" fill="#0a0a0a"/>
<rect x="439.64" y="192.7" width="0.9" height="10.6" fill="#ad3128"/>
<rect x="442.78" y="193.0" width="0.8" height="14.5" fill="#111"/>
<rect x="442.08" y="199.8" width="2.2" height="6.2" fill="#0a0a0a"/>
<rect x="442.73" y="200.5" width="0.9" height="4.8" fill="#ad3128"/>
<rect x="445.87" y="203.7" width="0.8" height="15.9" fill="#111"/>
<rect x="445.17" y="211.5" width="2.2" height="3.9" fill="#0a0a0a"/>
<rect x="445.82" y="212.2" width="0.9" height="2.5" fill="#ad3128"/>
<rect x="448.97" y="198.2" width="0.8" height="13.0" fill="#111"/>
<rect x="448.27" y="198.7" width="2.2" height="12.0" fill="#0a0a0a"/>
<rect x="448.92" y="199.4" width="0.9" height="10.6" fill="#143f1a"/>
<rect x="452.06" y="195.1" width="0.8" height="17.9" fill="#111"/>
<rect x="451.36" y="196.6" width="2.2" height="11.7" fill="#0a0a0a"/>
<rect x="452.01" y="197.3" width="0.9" height="10.3" fill="#ad3128"/>
<rect x="455.15" y="193.5" width="0.8" height="21.1" fill="#111"/>
<rect x="454.45" y="196.2" width="2.2" height="15.6" fill="#0a0a0a"/>
<rect x="455.10" y="196.9" width="0.9" height="14.2" fill="#143f1a"/>
<rect x="458.24" y="194.3" width="0.8" height="15.3" fill="#111"/>
<rect x="457.54" y="195.1" width="2.2" height="6.2" fill="#0a0a0a"/>
<rect x="458.19" y="195.8" width="0.9" height="4.8" fill="#ad3128"/>
<rect x="461.34" y="181.0" width="0.8" height="21.8" fill="#111"/>
<rect x="460.64" y="184.9" width="2.2" height="14.0" fill="#0a0a0a"/>
<rect x="461.29" y="185.6" width="0.9" height="12.6" fill="#143f1a"/>
<rect x="464.43" y="172.5" width="0.8" height="20.6" fill="#111"/>
<rect x="463.73" y="173.2" width="2.2" height="12.0" fill="#0a0a0a"/>
<rect x="464.38" y="173.9" width="0.9" height="10.6" fill="#143f1a"/>
<rect x="467.52" y="166.2" width="0.8" height="12.2" fill="#111"/>
<rect x="466.82" y="171.2" width="2.2" height="6.2" fill="#0a0a0a"/>
<rect x="467.47" y="171.9" width="0.9" height="4.8" fill="#ad3128"/>
<rect x="470.61" y="170.1" width="0.8" height="11.4" fill="#111"/>
<rect x="469.91" y="172.1" width="2.2" height="2.7" fill="#0a0a0a"/>
<rect x="470.56" y="172.8" width="0.9" height="1.3" fill="#143f1a"/>
<rect x="473.71" y="165.9" width="0.8" height="9.4" fill="#111"/>
<rect x="473.01" y="171.7" width="2.2" height="2.3" fill="#0a0a0a"/>
<rect x="473.66" y="172.4" width="0.9" height="0.9" fill="#ad3128"/>
<rect x="476.80" y="171.2" width="0.8" height="7.5" fill="#111"/>
<rect x="476.10" y="175.6" width="2.2" height="2.3" fill="#0a0a0a"/>
<rect x="476.75" y="176.3" width="0.9" height="0.9" fill="#ad3128"/>
<rect x="479.89" y="177.4" width="0.8" height="10.6" fill="#111"/>
<rect x="479.19" y="179.9" width="2.2" height="6.2" fill="#0a0a0a"/>
<rect x="479.84" y="180.6" width="0.9" height="4.8" fill="#ad3128"/>
<rect x="482.99" y="171.7" width="0.8" height="17.2" fill="#111"/>
<rect x="482.29" y="172.1" width="2.2" height="13.6" fill="#0a0a0a"/>
<rect x="482.94" y="172.8" width="0.9" height="12.2" fill="#143f1a"/>
<rect x="486.08" y="167.8" width="0.8" height="8.1" fill="#111"/>
<rect x="485.38" y="170.6" width="2.2" height="1.9" fill="#0a0a0a"/>
<rect x="486.03" y="171.3" width="0.9" height="0.5" fill="#143f1a"/>
<rect x="489.17" y="165.9" width="0.8" height="19.0" fill="#111"/>
<rect x="488.47" y="172.1" width="2.2" height="11.2" fill="#0a0a0a"/>
<rect x="489.12" y="172.8" width="0.9" height="9.8" fill="#ad3128"/>
<rect x="492.26" y="177.4" width="0.8" height="11.9" fill="#111"/>
<rect x="491.56" y="185.2" width="2.2" height="3.1" fill="#0a0a0a"/>
<rect x="492.21" y="185.9" width="0.9" height="1.7" fill="#ad3128"/>
<rect x="495.36" y="192.4" width="0.8" height="19.0" fill="#111"/>
<rect x="494.66" y="193.5" width="2.2" height="17.6" fill="#0a0a0a"/>
<rect x="495.31" y="194.2" width="0.9" height="16.2" fill="#ad3128"/>
<rect x="498.45" y="209.5" width="0.8" height="13.6" fill="#111"/>
<rect x="497.75" y="210.3" width="2.2" height="12.2" fill="#0a0a0a"/>
<rect x="498.40" y="211.0" width="0.9" height="10.8" fill="#ad3128"/>
<rect x="501.54" y="206.9" width="0.8" height="16.7" fill="#111"/>
<rect x="500.84" y="216.5" width="2.2" height="2.3" fill="#0a0a0a"/>
<rect x="501.49" y="217.2" width="0.9" height="0.9" fill="#143f1a"/>
<rect x="504.63" y="205.3" width="0.8" height="20.9" fill="#111"/>
<rect x="503.93" y="207.9" width="2.2" height="13.3" fill="#0a0a0a"/>
<rect x="504.58" y="208.6" width="0.9" height="11.9" fill="#143f1a"/>
<rect x="507.73" y="203.3" width="0.8" height="18.7" fill="#111"/>
<rect x="507.03" y="209.0" width="2.2" height="11.9" fill="#0a0a0a"/>
<rect x="507.68" y="209.7" width="0.9" height="10.5" fill="#ad3128"/>
<rect x="510.82" y="219.6" width="0.8" height="21.8" fill="#111"/>
<rect x="510.12" y="220.4" width="2.2" height="7.8" fill="#0a0a0a"/>
<rect x="510.77" y="221.1" width="0.9" height="6.4" fill="#ad3128"/>
<rect x="513.91" y="225.1" width="0.8" height="16.1" fill="#111"/>
<rect x="513.21" y="230.9" width="2.2" height="8.7" fill="#0a0a0a"/>
<rect x="513.86" y="231.6" width="0.9" height="7.3" fill="#ad3128"/>
<rect x="517.00" y="236.0" width="0.8" height="14.0" fill="#111"/>
<rect x="516.30" y="236.8" width="2.2" height="6.2" fill="#0a0a0a"/>
<rect x="516.95" y="237.5" width="0.9" height="4.8" fill="#143f1a"/>
<rect x="520.10" y="226.2" width="0.8" height="14.5" fill="#111"/>
<rect x="519.40" y="227.5" width="2.2" height="12.5" fill="#0a0a0a"/>
<rect x="520.05" y="228.2" width="0.9" height="11.1" fill="#143f1a"/>
<rect x="523.19" y="230.9" width="0.8" height="16.5" fill="#111"/>
<rect x="522.49" y="231.8" width="2.2" height="8.4" fill="#0a0a0a"/>
<rect x="523.14" y="232.5" width="0.9" height="7.0" fill="#ad3128"/>
<rect x="526.28" y="241.2" width="0.8" height="22.9" fill="#111"/>
<rect x="525.58" y="242.3" width="2.2" height="21.1" fill="#0a0a0a"/>
<rect x="526.23" y="243.0" width="0.9" height="19.7" fill="#ad3128"/>
<rect x="529.38" y="259.4" width="0.8" height="32.2" fill="#111"/>
<rect x="528.68" y="260.1" width="2.2" height="29.8" fill="#0a0a0a"/>
<rect x="529.33" y="260.8" width="0.9" height="28.4" fill="#ad3128"/>
<rect x="532.47" y="288.3" width="0.8" height="18.0" fill="#111"/>
<rect x="531.77" y="289.2" width="2.2" height="7.4" fill="#0a0a0a"/>
<rect x="532.42" y="289.9" width="0.9" height="6.0" fill="#143f1a"/>
<rect x="535.56" y="294.1" width="0.8" height="20.1" fill="#111"/>
<rect x="534.86" y="294.8" width="2.2" height="6.2" fill="#0a0a0a"/>
<rect x="535.51" y="295.5" width="0.9" height="4.8" fill="#ad3128"/>
<rect x="538.65" y="286.5" width="0.8" height="12.1" fill="#111"/>
<rect x="537.95" y="289.7" width="2.2" height="5.1" fill="#0a0a0a"/>
<rect x="538.60" y="290.4" width="0.9" height="3.7" fill="#143f1a"/>
<rect x="541.75" y="276.3" width="0.8" height="12.2" fill="#111"/>
<rect x="541.05" y="278.8" width="2.2" height="9.0" fill="#0a0a0a"/>
<rect x="541.70" y="279.5" width="0.9" height="7.6" fill="#143f1a"/>
<rect x="544.84" y="239.2" width="0.8" height="39.0" fill="#111"/>
<rect x="544.14" y="239.9" width="2.2" height="37.5" fill="#0a0a0a"/>
<rect x="544.79" y="240.6" width="0.9" height="36.1" fill="#143f1a"/>
<rect x="547.93" y="226.2" width="0.8" height="26.5" fill="#111"/>
<rect x="547.23" y="232.4" width="2.2" height="8.7" fill="#0a0a0a"/>
<rect x="547.88" y="233.1" width="0.9" height="7.3" fill="#143f1a"/>
<rect x="551.02" y="216.8" width="0.8" height="15.6" fill="#111"/>
<rect x="550.32" y="227.5" width="2.2" height="3.4" fill="#0a0a0a"/>
<rect x="550.97" y="228.2" width="0.9" height="2.0" fill="#143f1a"/>
<rect x="554.12" y="214.2" width="0.8" height="20.3" fill="#111"/>
<rect x="553.42" y="220.0" width="2.2" height="9.4" fill="#0a0a0a"/>
<rect x="554.07" y="220.7" width="0.9" height="8.0" fill="#143f1a"/>
<rect x="557.21" y="218.4" width="0.8" height="12.5" fill="#111"/>
<rect x="556.51" y="222.5" width="2.2" height="5.3" fill="#0a0a0a"/>
<rect x="557.16" y="223.2" width="0.9" height="3.9" fill="#ad3128"/>
<rect x="560.30" y="218.1" width="0.8" height="16.4" fill="#111"/>
<rect x="559.60" y="224.0" width="2.2" height="2.7" fill="#0a0a0a"/>
<rect x="560.25" y="224.7" width="0.9" height="1.3" fill="#ad3128"/>
<rect x="563.40" y="226.2" width="0.8" height="21.8" fill="#111"/>
<rect x="562.70" y="226.7" width="2.2" height="17.9" fill="#0a0a0a"/>
<rect x="563.35" y="227.4" width="0.9" height="16.5" fill="#ad3128"/>
<rect x="566.49" y="235.6" width="0.8" height="15.6" fill="#111"/>
<rect x="565.79" y="238.7" width="2.2" height="11.4" fill="#0a0a0a"/>
<rect x="566.44" y="239.4" width="0.9" height="10.0" fill="#143f1a"/>
<rect x="569.58" y="227.8" width="0.8" height="15.3" fill="#111"/>
<rect x="568.88" y="231.8" width="2.2" height="10.0" fill="#0a0a0a"/>
<rect x="569.53" y="232.5" width="0.9" height="8.6" fill="#143f1a"/>
<rect x="572.67" y="220.4" width="0.8" height="14.0" fill="#111"/>
<rect x="571.97" y="220.9" width="2.2" height="8.9" fill="#0a0a0a"/>
<rect x="572.62" y="221.6" width="0.9" height="7.5" fill="#143f1a"/>
<rect x="575.77" y="223.6" width="0.8" height="16.1" fill="#111"/>
<rect x="575.07" y="225.6" width="2.2" height="10.5" fill="#0a0a0a"/>
<rect x="575.72" y="226.3" width="0.9" height="9.1" fill="#ad3128"/>
<rect x="578.86" y="231.4" width="0.8" height="10.5" fill="#111"/>
<rect x="578.16" y="236.0" width="2.2" height="3.6" fill="#0a0a0a"/>
<rect x="578.81" y="236.7" width="0.9" height="2.2" fill="#143f1a"/>
<rect x="581.95" y="232.4" width="0.8" height="21.2" fill="#111"/>
<rect x="581.25" y="234.5" width="2.2" height="16.1" fill="#0a0a0a"/>
<rect x="581.90" y="235.2" width="0.9" height="14.7" fill="#ad3128"/>
<rect x="585.04" y="247.4" width="0.8" height="13.6" fill="#111"/>
<rect x="584.34" y="250.5" width="2.2" height="1.1" fill="#0a0a0a"/>
<rect x="585.04" y="250.8" width="0.8" height="0.5" fill="#143f1a"/>
<rect x="588.14" y="246.2" width="0.8" height="9.7" fill="#111"/>
<rect x="587.44" y="247.0" width="2.2" height="5.8" fill="#0a0a0a"/>
<rect x="588.09" y="247.7" width="0.9" height="4.4" fill="#143f1a"/>
<rect x="591.23" y="242.3" width="0.8" height="7.8" fill="#111"/>
<rect x="590.53" y="244.6" width="2.2" height="4.4" fill="#0a0a0a"/>
<rect x="591.18" y="245.3" width="0.9" height="3.0" fill="#ad3128"/>
<rect x="594.32" y="237.6" width="0.8" height="13.6" fill="#111"/>
<rect x="593.62" y="239.2" width="2.2" height="10.9" fill="#0a0a0a"/>
<rect x="594.27" y="239.9" width="0.9" height="9.5" fill="#143f1a"/>
<rect x="597.42" y="227.1" width="0.8" height="13.1" fill="#111"/>
<rect x="596.72" y="229.8" width="2.2" height="9.8" fill="#0a0a0a"/>
<rect x="597.37" y="230.5" width="0.9" height="8.4" fill="#143f1a"/>
<rect x="600.51" y="214.2" width="0.8" height="14.0" fill="#111"/>
<rect x="599.81" y="216.8" width="2.2" height="8.7" fill="#0a0a0a"/>
<rect x="600.46" y="217.5" width="0.9" height="7.3" fill="#143f1a"/>
<rect x="603.60" y="195.0" width="0.8" height="22.3" fill="#111"/>
<rect x="602.90" y="199.1" width="2.2" height="16.7" fill="#0a0a0a"/>
<rect x="603.55" y="199.8" width="0.9" height="15.3" fill="#143f1a"/>
<rect x="606.69" y="188.9" width="0.8" height="9.8" fill="#111"/>
<rect x="605.99" y="190.4" width="2.2" height="7.0" fill="#0a0a0a"/>
<rect x="606.64" y="191.1" width="0.9" height="5.6" fill="#143f1a"/>
<rect x="609.79" y="182.2" width="0.8" height="14.5" fill="#111"/>
<rect x="609.09" y="190.4" width="2.2" height="2.3" fill="#0a0a0a"/>
<rect x="609.74" y="191.1" width="0.9" height="0.9" fill="#ad3128"/>
<rect x="612.88" y="188.9" width="0.8" height="11.7" fill="#111"/>
<rect x="612.18" y="189.6" width="2.2" height="6.6" fill="#0a0a0a"/>
<rect x="612.83" y="190.3" width="0.9" height="5.2" fill="#143f1a"/>
<rect x="615.97" y="178.7" width="0.8" height="5.9" fill="#111"/>
<rect x="615.27" y="182.6" width="2.2" height="1.1" fill="#0a0a0a"/>
<rect x="615.97" y="182.9" width="0.8" height="0.5" fill="#143f1a"/>
<rect x="619.06" y="177.9" width="0.8" height="9.8" fill="#111"/>
<rect x="618.36" y="179.5" width="2.2" height="3.9" fill="#0a0a0a"/>
<rect x="619.01" y="180.2" width="0.9" height="2.5" fill="#143f1a"/>
<rect x="622.16" y="172.8" width="0.8" height="20.3" fill="#111"/>
<rect x="621.46" y="177.9" width="2.2" height="13.3" fill="#0a0a0a"/>
<rect x="622.11" y="178.6" width="0.9" height="11.9" fill="#ad3128"/>
<rect x="625.25" y="184.2" width="0.8" height="10.1" fill="#111"/>
<rect x="624.55" y="186.8" width="2.2" height="6.2" fill="#0a0a0a"/>
<rect x="625.20" y="187.5" width="0.9" height="4.8" fill="#143f1a"/>
<rect x="628.34" y="185.7" width="0.8" height="9.8" fill="#111"/>
<rect x="627.64" y="186.8" width="2.2" height="7.8" fill="#0a0a0a"/>
<rect x="628.29" y="187.5" width="0.9" height="6.4" fill="#ad3128"/>
<rect x="631.43" y="194.0" width="0.8" height="8.1" fill="#111"/>
<rect x="630.73" y="195.1" width="2.2" height="5.1" fill="#0a0a0a"/>
<rect x="631.38" y="195.8" width="0.9" height="3.7" fill="#ad3128"/>
<rect x="634.53" y="200.9" width="0.8" height="16.5" fill="#111"/>
<rect x="633.83" y="203.4" width="2.2" height="12.5" fill="#0a0a0a"/>
<rect x="634.48" y="204.1" width="0.9" height="11.1" fill="#ad3128"/>
<rect x="637.62" y="200.9" width="0.8" height="13.0" fill="#111"/>
<rect x="636.92" y="201.8" width="2.2" height="10.5" fill="#0a0a0a"/>
<rect x="637.57" y="202.5" width="0.9" height="9.1" fill="#143f1a"/>
<rect x="640.71" y="190.4" width="0.8" height="13.0" fill="#111"/>
<rect x="640.01" y="198.7" width="2.2" height="1.9" fill="#0a0a0a"/>
<rect x="640.66" y="199.4" width="0.9" height="0.5" fill="#143f1a"/>
<rect x="643.81" y="192.0" width="0.8" height="7.8" fill="#111"/>
<rect x="643.11" y="196.7" width="2.2" height="1.6" fill="#0a0a0a"/>
<rect x="643.76" y="197.4" width="0.9" height="0.2" fill="#143f1a"/>
<rect x="646.90" y="181.5" width="0.8" height="8.9" fill="#111"/>
<rect x="646.20" y="183.1" width="2.2" height="6.2" fill="#0a0a0a"/>
<rect x="646.85" y="183.8" width="0.9" height="4.8" fill="#143f1a"/>
<rect x="649.99" y="184.2" width="0.8" height="15.1" fill="#111"/>
<rect x="649.29" y="185.3" width="2.2" height="13.4" fill="#0a0a0a"/>
<rect x="649.94" y="186.0" width="0.9" height="12.0" fill="#ad3128"/>
<rect x="653.08" y="193.6" width="0.8" height="10.9" fill="#111"/>
<rect x="652.38" y="195.6" width="2.2" height="4.2" fill="#0a0a0a"/>
<rect x="653.03" y="196.3" width="0.9" height="2.8" fill="#143f1a"/>
<rect x="656.18" y="188.9" width="0.8" height="10.9" fill="#111"/>
<rect x="655.48" y="190.4" width="2.2" height="8.3" fill="#0a0a0a"/>
<rect x="656.13" y="191.1" width="0.9" height="6.9" fill="#143f1a"/>
<rect x="659.27" y="185.7" width="0.8" height="10.5" fill="#111"/>
<rect x="658.57" y="193.1" width="2.2" height="2.0" fill="#0a0a0a"/>
<rect x="659.22" y="193.8" width="0.9" height="0.6" fill="#ad3128"/>
<rect x="662.36" y="192.0" width="0.8" height="27.0" fill="#111"/>
<rect x="661.66" y="193.1" width="2.2" height="25.0" fill="#0a0a0a"/>
<rect x="662.31" y="193.8" width="0.9" height="23.6" fill="#ad3128"/>
<rect x="665.45" y="212.3" width="0.8" height="11.7" fill="#111"/>
<rect x="664.75" y="219.0" width="2.2" height="2.7" fill="#0a0a0a"/>
<rect x="665.40" y="219.7" width="0.9" height="1.3" fill="#ad3128"/>
<rect x="668.55" y="209.6" width="0.8" height="19.3" fill="#111"/>
<rect x="667.85" y="213.1" width="2.2" height="8.1" fill="#0a0a0a"/>
<rect x="668.50" y="213.8" width="0.9" height="6.7" fill="#143f1a"/>
<rect x="671.64" y="209.2" width="0.8" height="12.5" fill="#111"/>
<rect x="670.94" y="210.2" width="2.2" height="6.2" fill="#0a0a0a"/>
<rect x="671.59" y="210.9" width="0.9" height="4.8" fill="#ad3128"/>
<rect x="674.73" y="198.2" width="0.8" height="19.8" fill="#111"/>
<rect x="674.03" y="204.5" width="2.2" height="11.4" fill="#0a0a0a"/>
<rect x="674.68" y="205.2" width="0.9" height="10.0" fill="#143f1a"/>
<rect x="677.83" y="199.0" width="0.8" height="7.5" fill="#111"/>
<rect x="677.13" y="204.0" width="2.2" height="1.6" fill="#0a0a0a"/>
<rect x="677.78" y="204.7" width="0.9" height="0.2" fill="#143f1a"/>
<rect x="680.92" y="194.6" width="0.8" height="10.9" fill="#111"/>
<rect x="680.22" y="200.9" width="2.2" height="3.6" fill="#0a0a0a"/>
<rect x="680.87" y="201.6" width="0.9" height="2.2" fill="#143f1a"/>
<rect x="684.01" y="198.2" width="0.8" height="7.0" fill="#111"/>
<rect x="683.31" y="199.3" width="2.2" height="4.4" fill="#0a0a0a"/>
<rect x="683.96" y="200.0" width="0.9" height="3.0" fill="#143f1a"/>
<rect x="687.10" y="193.6" width="0.8" height="14.5" fill="#111"/>
<rect x="686.40" y="194.3" width="2.2" height="7.0" fill="#0a0a0a"/>
<rect x="687.05" y="195.0" width="0.9" height="5.6" fill="#143f1a"/>
<rect x="690.20" y="190.4" width="0.8" height="4.7" fill="#111"/>
<rect x="689.50" y="192.8" width="2.2" height="1.2" fill="#0a0a0a"/>
<rect x="690.20" y="193.1" width="0.8" height="0.6" fill="#143f1a"/>
<rect x="693.29" y="188.1" width="0.8" height="9.4" fill="#111"/>
<rect x="692.59" y="194.0" width="2.2" height="2.7" fill="#0a0a0a"/>
<rect x="693.24" y="194.7" width="0.9" height="1.3" fill="#ad3128"/>
<rect x="696.38" y="195.1" width="0.8" height="8.9" fill="#111"/>
<rect x="695.68" y="195.9" width="2.2" height="7.5" fill="#0a0a0a"/>
<rect x="696.33" y="196.6" width="0.9" height="6.1" fill="#ad3128"/>
<rect x="699.47" y="200.9" width="0.8" height="13.7" fill="#111"/>
<rect x="698.77" y="203.7" width="2.2" height="10.1" fill="#0a0a0a"/>
<rect x="699.42" y="204.4" width="0.9" height="8.7" fill="#ad3128"/>
<rect x="702.57" y="210.7" width="0.8" height="9.4" fill="#111"/>
<rect x="701.87" y="215.4" width="2.2" height="2.7" fill="#0a0a0a"/>
<rect x="702.52" y="216.1" width="0.9" height="1.3" fill="#ad3128"/>
<rect x="705.66" y="214.7" width="0.8" height="23.7" fill="#111"/>
<rect x="704.96" y="217.8" width="2.2" height="19.8" fill="#0a0a0a"/>
<rect x="705.61" y="218.5" width="0.9" height="18.4" fill="#ad3128"/>
<rect x="708.75" y="228.7" width="0.8" height="8.9" fill="#111"/>
<rect x="708.05" y="234.5" width="2.2" height="2.0" fill="#0a0a0a"/>
<rect x="708.70" y="235.2" width="0.9" height="0.6" fill="#143f1a"/>
<rect x="711.85" y="229.0" width="0.8" height="14.0" fill="#111"/>
<rect x="711.15" y="230.3" width="2.2" height="6.9" fill="#0a0a0a"/>
<rect x="711.80" y="231.0" width="0.9" height="5.5" fill="#143f1a"/>
<rect x="714.94" y="223.1" width="0.8" height="14.5" fill="#111"/>
<rect x="714.24" y="225.6" width="2.2" height="5.3" fill="#0a0a0a"/>
<rect x="714.89" y="226.3" width="0.9" height="3.9" fill="#143f1a"/>
<rect x="718.03" y="227.1" width="0.8" height="5.3" fill="#111"/>
<rect x="717.33" y="228.7" width="2.2" height="2.2" fill="#0a0a0a"/>
<rect x="717.98" y="229.4" width="0.9" height="0.8" fill="#ad3128"/>
<rect x="721.12" y="222.0" width="0.8" height="9.8" fill="#111"/>
<rect x="720.42" y="224.0" width="2.2" height="6.9" fill="#0a0a0a"/>
<rect x="721.07" y="224.7" width="0.9" height="5.5" fill="#143f1a"/>
<rect x="724.22" y="225.6" width="0.8" height="18.7" fill="#111"/>
<rect x="723.52" y="226.2" width="2.2" height="17.6" fill="#0a0a0a"/>
<rect x="724.17" y="226.9" width="0.9" height="16.2" fill="#ad3128"/>
<rect x="727.31" y="238.1" width="0.8" height="16.2" fill="#111"/>
<rect x="726.61" y="243.4" width="2.2" height="9.4" fill="#0a0a0a"/>
<rect x="727.26" y="244.1" width="0.9" height="8.0" fill="#ad3128"/>
<rect x="730.40" y="240.7" width="0.8" height="9.4" fill="#111"/>
<rect x="729.70" y="245.4" width="2.2" height="2.0" fill="#0a0a0a"/>
<rect x="730.35" y="246.1" width="0.9" height="0.6" fill="#143f1a"/>
<rect x="733.49" y="236.5" width="0.8" height="12.0" fill="#111"/>
<rect x="732.79" y="242.3" width="2.2" height="5.1" fill="#0a0a0a"/>
<rect x="733.44" y="243.0" width="0.9" height="3.7" fill="#143f1a"/>
<rect x="736.59" y="241.5" width="0.8" height="12.8" fill="#111"/>
<rect x="735.89" y="242.7" width="2.2" height="8.4" fill="#0a0a0a"/>
<rect x="736.54" y="243.4" width="0.9" height="7.0" fill="#ad3128"/>
<rect x="739.68" y="240.2" width="0.8" height="8.7" fill="#111"/>
<rect x="738.98" y="246.5" width="2.2" height="1.6" fill="#0a0a0a"/>
<rect x="739.63" y="247.2" width="0.9" height="0.2" fill="#143f1a"/>
<rect x="742.77" y="246.5" width="0.8" height="20.8" fill="#111"/>
<rect x="742.07" y="247.4" width="2.2" height="19.0" fill="#0a0a0a"/>
<rect x="742.72" y="248.1" width="0.9" height="17.6" fill="#ad3128"/>
<rect x="745.86" y="244.9" width="0.8" height="28.6" fill="#111"/>
<rect x="745.16" y="247.7" width="2.2" height="24.2" fill="#0a0a0a"/>
<rect x="745.81" y="248.4" width="0.9" height="22.8" fill="#143f1a"/>
<rect x="748.96" y="226.2" width="0.8" height="16.1" fill="#111"/>
<rect x="748.26" y="233.7" width="2.2" height="4.7" fill="#0a0a0a"/>
<rect x="748.91" y="234.4" width="0.9" height="3.3" fill="#ad3128"/>
<rect x="752.05" y="234.5" width="0.8" height="14.8" fill="#111"/>
<rect x="751.35" y="235.6" width="2.2" height="13.0" fill="#0a0a0a"/>
<rect x="752.00" y="236.3" width="0.9" height="11.6" fill="#ad3128"/>
<rect x="755.14" y="238.7" width="0.8" height="9.4" fill="#111"/>
<rect x="754.44" y="240.2" width="2.2" height="7.2" fill="#0a0a0a"/>
<rect x="755.09" y="240.9" width="0.9" height="5.8" fill="#143f1a"/>
<rect x="758.24" y="234.5" width="0.8" height="9.4" fill="#111"/>
<rect x="757.54" y="239.2" width="2.2" height="2.7" fill="#0a0a0a"/>
<rect x="758.19" y="239.9" width="0.9" height="1.3" fill="#143f1a"/>
<rect x="761.33" y="237.1" width="0.8" height="7.2" fill="#111"/>
<rect x="760.63" y="240.7" width="2.2" height="2.0" fill="#0a0a0a"/>
<rect x="761.28" y="241.4" width="0.9" height="0.6" fill="#143f1a"/>
<rect x="764.42" y="237.6" width="0.8" height="7.3" fill="#111"/>
<rect x="763.72" y="240.2" width="2.2" height="2.0" fill="#0a0a0a"/>
<rect x="764.37" y="240.9" width="0.9" height="0.6" fill="#143f1a"/>
<rect x="767.51" y="231.4" width="0.8" height="17.2" fill="#111"/>
<rect x="766.81" y="241.2" width="2.2" height="1.9" fill="#0a0a0a"/>
<rect x="767.46" y="241.9" width="0.9" height="0.5" fill="#143f1a"/>
<rect x="770.61" y="233.7" width="0.8" height="8.6" fill="#111"/>
<rect x="769.91" y="237.1" width="2.2" height="4.4" fill="#0a0a0a"/>
<rect x="770.56" y="237.8" width="0.9" height="3.0" fill="#143f1a"/>
<rect x="773.70" y="223.6" width="0.8" height="14.0" fill="#111"/>
<rect x="773.00" y="226.7" width="2.2" height="9.8" fill="#0a0a0a"/>
<rect x="773.65" y="227.4" width="0.9" height="8.4" fill="#143f1a"/>
<rect x="776.79" y="194.7" width="0.8" height="30.9" fill="#111"/>
<rect x="776.09" y="195.5" width="2.2" height="29.2" fill="#0a0a0a"/>
<rect x="776.74" y="196.2" width="0.9" height="27.8" fill="#143f1a"/>
<rect x="779.88" y="185.6" width="0.8" height="19.0" fill="#111"/>
<rect x="779.18" y="196.5" width="2.2" height="1.2" fill="#0a0a0a"/>
<rect x="779.88" y="196.8" width="0.8" height="0.6" fill="#143f1a"/>
<rect x="782.98" y="187.8" width="0.8" height="15.3" fill="#111"/>
<rect x="782.28" y="192.9" width="2.2" height="9.4" fill="#0a0a0a"/>
<rect x="782.93" y="193.6" width="0.9" height="8.0" fill="#ad3128"/>
<rect x="786.07" y="194.0" width="0.8" height="21.5" fill="#111"/>
<rect x="785.37" y="199.6" width="2.2" height="14.4" fill="#0a0a0a"/>
<rect x="786.02" y="200.3" width="0.9" height="13.0" fill="#ad3128"/>
<rect x="789.16" y="204.6" width="0.8" height="16.9" fill="#111"/>
<rect x="788.46" y="210.1" width="2.2" height="10.5" fill="#0a0a0a"/>
<rect x="789.11" y="210.8" width="0.9" height="9.1" fill="#ad3128"/>
<rect x="792.26" y="223.0" width="0.8" height="14.4" fill="#111"/>
<rect x="791.56" y="225.2" width="2.2" height="10.9" fill="#0a0a0a"/>
<rect x="792.21" y="225.9" width="0.9" height="9.5" fill="#143f1a"/>
<rect x="795.35" y="213.2" width="0.8" height="16.1" fill="#111"/>
<rect x="794.65" y="215.5" width="2.2" height="10.9" fill="#0a0a0a"/>
<rect x="795.30" y="216.2" width="0.9" height="9.5" fill="#143f1a"/>
<rect x="798.44" y="208.5" width="0.8" height="12.0" fill="#111"/>
<rect x="797.74" y="213.2" width="2.2" height="2.3" fill="#0a0a0a"/>
<rect x="798.39" y="213.9" width="0.9" height="0.9" fill="#143f1a"/>
<rect x="801.53" y="213.2" width="0.8" height="10.5" fill="#111"/>
<rect x="800.83" y="214.0" width="2.2" height="1.9" fill="#0a0a0a"/>
<rect x="801.48" y="214.7" width="0.9" height="0.5" fill="#ad3128"/>
<rect x="804.63" y="204.6" width="0.8" height="15.6" fill="#111"/>
<rect x="803.93" y="215.9" width="2.2" height="3.6" fill="#0a0a0a"/>
<rect x="804.58" y="216.6" width="0.9" height="2.2" fill="#ad3128"/>
<rect x="807.72" y="204.9" width="0.8" height="12.2" fill="#111"/>
<rect x="807.02" y="207.0" width="2.2" height="8.9" fill="#0a0a0a"/>
<rect x="807.67" y="207.7" width="0.9" height="7.5" fill="#143f1a"/>
<rect x="810.81" y="199.6" width="0.8" height="10.9" fill="#111"/>
<rect x="810.11" y="202.7" width="2.2" height="6.2" fill="#0a0a0a"/>
<rect x="810.76" y="203.4" width="0.9" height="4.8" fill="#143f1a"/>
<rect x="813.90" y="189.8" width="0.8" height="11.4" fill="#111"/>
<rect x="813.20" y="190.9" width="2.2" height="9.4" fill="#0a0a0a"/>
<rect x="813.85" y="191.6" width="0.9" height="8.0" fill="#143f1a"/>
<rect x="817.00" y="187.8" width="0.8" height="14.5" fill="#111"/>
<rect x="816.30" y="190.9" width="2.2" height="5.6" fill="#0a0a0a"/>
<rect x="816.95" y="191.6" width="0.9" height="4.2" fill="#ad3128"/>
<rect x="820.09" y="195.3" width="0.8" height="20.3" fill="#111"/>
<rect x="819.39" y="196.5" width="2.2" height="18.3" fill="#0a0a0a"/>
<rect x="820.04" y="197.2" width="0.9" height="16.9" fill="#ad3128"/>
<rect x="823.18" y="210.1" width="0.8" height="6.2" fill="#111"/>
<rect x="822.48" y="212.1" width="2.2" height="1.6" fill="#0a0a0a"/>
<rect x="823.13" y="212.8" width="0.9" height="0.2" fill="#143f1a"/>
<rect x="826.27" y="185.9" width="0.8" height="31.5" fill="#111"/>
<rect x="825.57" y="186.7" width="2.2" height="27.0" fill="#0a0a0a"/>
<rect x="826.22" y="187.4" width="0.9" height="25.6" fill="#143f1a"/>
<rect x="829.37" y="184.0" width="0.8" height="13.6" fill="#111"/>
<rect x="828.67" y="186.2" width="2.2" height="10.3" fill="#0a0a0a"/>
<rect x="829.32" y="186.9" width="0.9" height="8.9" fill="#ad3128"/>
<rect x="832.46" y="160.1" width="0.8" height="41.4" fill="#111"/>
<rect x="831.76" y="163.3" width="2.2" height="36.7" fill="#0a0a0a"/>
<rect x="832.41" y="164.0" width="0.9" height="35.3" fill="#143f1a"/>
<rect x="835.55" y="148.4" width="0.8" height="19.7" fill="#111"/>
<rect x="834.85" y="153.0" width="2.2" height="10.6" fill="#0a0a0a"/>
<rect x="835.50" y="153.7" width="0.9" height="9.2" fill="#ad3128"/>
<rect x="838.65" y="147.7" width="0.8" height="11.5" fill="#111"/>
<rect x="837.95" y="150.9" width="2.2" height="5.3" fill="#0a0a0a"/>
<rect x="838.60" y="151.6" width="0.9" height="3.9" fill="#143f1a"/>
<rect x="841.74" y="146.8" width="0.8" height="13.7" fill="#111"/>
<rect x="841.04" y="148.1" width="2.2" height="5.9" fill="#0a0a0a"/>
<rect x="841.69" y="148.8" width="0.9" height="4.5" fill="#ad3128"/>
<rect x="844.83" y="137.1" width="0.8" height="14.8" fill="#111"/>
<rect x="844.13" y="137.9" width="2.2" height="13.6" fill="#0a0a0a"/>
<rect x="844.78" y="138.6" width="0.9" height="12.2" fill="#143f1a"/>
<rect x="847.92" y="122.3" width="0.8" height="19.2" fill="#111"/>
<rect x="847.22" y="123.1" width="2.2" height="12.8" fill="#0a0a0a"/>
<rect x="847.87" y="123.8" width="0.9" height="11.4" fill="#143f1a"/>
<rect x="851.02" y="108.3" width="0.8" height="20.8" fill="#111"/>
<rect x="850.32" y="121.8" width="2.2" height="6.2" fill="#0a0a0a"/>
<rect x="850.97" y="122.5" width="0.9" height="4.8" fill="#ad3128"/>
<rect x="854.11" y="114.0" width="0.8" height="15.6" fill="#111"/>
<rect x="853.41" y="123.9" width="2.2" height="1.1" fill="#0a0a0a"/>
<rect x="854.11" y="124.2" width="0.8" height="0.5" fill="#143f1a"/>
<rect x="857.20" y="125.4" width="0.8" height="17.6" fill="#111"/>
<rect x="856.50" y="128.6" width="2.2" height="2.7" fill="#0a0a0a"/>
<rect x="857.15" y="129.3" width="0.9" height="1.3" fill="#ad3128"/>
<rect x="860.29" y="125.4" width="0.8" height="16.1" fill="#111"/>
<rect x="859.59" y="126.2" width="2.2" height="10.6" fill="#0a0a0a"/>
<rect x="860.24" y="126.9" width="0.9" height="9.2" fill="#ad3128"/>
<rect x="863.39" y="121.2" width="0.8" height="19.8" fill="#111"/>
<rect x="862.69" y="125.4" width="2.2" height="15.1" fill="#0a0a0a"/>
<rect x="863.34" y="126.1" width="0.9" height="13.7" fill="#143f1a"/>
<rect x="866.48" y="122.8" width="0.8" height="10.5" fill="#111"/>
<rect x="865.78" y="123.4" width="2.2" height="9.1" fill="#0a0a0a"/>
<rect x="866.43" y="124.1" width="0.9" height="7.7" fill="#ad3128"/>
<rect x="869.57" y="127.5" width="0.8" height="10.9" fill="#111"/>
<rect x="868.87" y="132.5" width="2.2" height="4.4" fill="#0a0a0a"/>
<rect x="869.52" y="133.2" width="0.9" height="3.0" fill="#143f1a"/>
<rect x="872.67" y="135.9" width="0.8" height="13.0" fill="#111"/>
<rect x="871.97" y="138.4" width="2.2" height="9.7" fill="#0a0a0a"/>
<rect x="872.62" y="139.1" width="0.9" height="8.3" fill="#ad3128"/>
<rect x="875.76" y="146.5" width="0.8" height="14.4" fill="#111"/>
<rect x="875.06" y="149.6" width="2.2" height="1.9" fill="#0a0a0a"/>
<rect x="875.71" y="150.3" width="0.9" height="0.5" fill="#ad3128"/>
<rect x="878.85" y="145.2" width="0.8" height="11.9" fill="#111"/>
<rect x="878.15" y="149.3" width="2.2" height="7.3" fill="#0a0a0a"/>
<rect x="878.80" y="150.0" width="0.9" height="5.9" fill="#ad3128"/>
<rect x="881.94" y="155.1" width="0.8" height="30.0" fill="#111"/>
<rect x="881.24" y="156.2" width="2.2" height="19.7" fill="#0a0a0a"/>
<rect x="881.89" y="156.9" width="0.9" height="18.3" fill="#ad3128"/>
<rect x="885.04" y="170.4" width="0.8" height="25.0" fill="#111"/>
<rect x="884.34" y="172.0" width="2.2" height="17.6" fill="#0a0a0a"/>
<rect x="884.99" y="172.7" width="0.9" height="16.2" fill="#ad3128"/>
<rect x="888.13" y="194.3" width="0.8" height="20.3" fill="#111"/>
<rect x="887.43" y="194.6" width="2.2" height="1.9" fill="#0a0a0a"/>
<rect x="888.08" y="195.3" width="0.9" height="0.5" fill="#ad3128"/>
<rect x="891.22" y="196.5" width="0.8" height="15.3" fill="#111"/>
<rect x="890.52" y="197.0" width="2.2" height="2.0" fill="#0a0a0a"/>
<rect x="891.17" y="197.7" width="0.9" height="0.6" fill="#143f1a"/>
<rect x="894.31" y="176.2" width="0.8" height="16.9" fill="#111"/>
<rect x="893.61" y="188.7" width="2.2" height="3.6" fill="#0a0a0a"/>
<rect x="894.26" y="189.4" width="0.9" height="2.2" fill="#143f1a"/>
<rect x="897.41" y="179.8" width="0.8" height="23.9" fill="#111"/>
<rect x="896.71" y="197.4" width="2.2" height="5.0" fill="#0a0a0a"/>
<rect x="897.36" y="198.1" width="0.9" height="3.6" fill="#ad3128"/>
<rect x="900.50" y="184.0" width="0.8" height="31.7" fill="#111"/>
<rect x="899.80" y="194.9" width="2.2" height="16.9" fill="#0a0a0a"/>
<rect x="900.45" y="195.6" width="0.9" height="15.5" fill="#143f1a"/>
<rect x="903.59" y="190.2" width="0.8" height="11.4" fill="#111"/>
<rect x="902.89" y="192.3" width="2.2" height="8.3" fill="#0a0a0a"/>
<rect x="903.54" y="193.0" width="0.9" height="6.9" fill="#ad3128"/>
<rect x="906.69" y="177.8" width="0.8" height="32.8" fill="#111"/>
<rect x="905.99" y="179.0" width="2.2" height="28.9" fill="#0a0a0a"/>
<rect x="906.64" y="179.7" width="0.9" height="27.5" fill="#143f1a"/>
<rect x="909.78" y="174.6" width="0.8" height="10.6" fill="#111"/>
<rect x="909.08" y="177.1" width="2.2" height="1.9" fill="#0a0a0a"/>
<rect x="909.73" y="177.8" width="0.9" height="0.5" fill="#143f1a"/>
<rect x="912.87" y="169.3" width="0.8" height="15.9" fill="#111"/>
<rect x="912.17" y="173.1" width="2.2" height="7.2" fill="#0a0a0a"/>
<rect x="912.82" y="173.8" width="0.9" height="5.8" fill="#143f1a"/>
<rect x="915.96" y="150.9" width="0.8" height="15.9" fill="#111"/>
<rect x="915.26" y="151.7" width="2.2" height="11.7" fill="#0a0a0a"/>
<rect x="915.91" y="152.4" width="0.9" height="10.3" fill="#143f1a"/>
<rect x="919.06" y="149.7" width="0.8" height="8.7" fill="#111"/>
<rect x="918.36" y="155.6" width="2.2" height="1.9" fill="#0a0a0a"/>
<rect x="919.01" y="156.3" width="0.9" height="0.5" fill="#ad3128"/>
<rect x="922.15" y="145.5" width="0.8" height="8.3" fill="#111"/>
<rect x="921.45" y="152.8" width="2.2" height="1.0" fill="#0a0a0a"/>
<rect x="922.15" y="153.1" width="0.8" height="0.4" fill="#143f1a"/>
<rect x="925.24" y="149.7" width="0.8" height="34.3" fill="#111"/>
<rect x="924.54" y="154.0" width="2.2" height="20.3" fill="#0a0a0a"/>
<rect x="925.19" y="154.7" width="0.9" height="18.9" fill="#ad3128"/>
<rect x="928.33" y="157.5" width="0.8" height="22.3" fill="#111"/>
<rect x="927.63" y="161.5" width="2.2" height="17.2" fill="#0a0a0a"/>
<rect x="928.28" y="162.2" width="0.9" height="15.8" fill="#143f1a"/>
<rect x="931.43" y="158.4" width="0.8" height="7.3" fill="#111"/>
<rect x="930.73" y="159.0" width="2.2" height="4.1" fill="#0a0a0a"/>
<rect x="931.38" y="159.7" width="0.9" height="2.7" fill="#ad3128"/>
<rect x="934.52" y="149.1" width="0.8" height="15.1" fill="#111"/>
<rect x="933.82" y="160.9" width="2.2" height="1.7" fill="#0a0a0a"/>
<rect x="934.47" y="161.6" width="0.9" height="0.3" fill="#ad3128"/>
<rect x="937.61" y="161.8" width="0.8" height="13.3" fill="#111"/>
<rect x="936.91" y="163.1" width="2.2" height="2.7" fill="#0a0a0a"/>
<rect x="937.56" y="163.8" width="0.9" height="1.3" fill="#ad3128"/>
<rect x="940.70" y="165.3" width="0.8" height="11.9" fill="#111"/>
<rect x="940.00" y="166.2" width="2.2" height="9.4" fill="#0a0a0a"/>
<rect x="940.65" y="166.9" width="0.9" height="8.0" fill="#143f1a"/>
<rect x="943.80" y="159.0" width="0.8" height="7.8" fill="#111"/>
<rect x="943.10" y="159.5" width="2.2" height="5.9" fill="#0a0a0a"/>
<rect x="943.75" y="160.2" width="0.9" height="4.5" fill="#143f1a"/>
<rect x="946.89" y="155.9" width="0.8" height="15.3" fill="#111"/>
<rect x="946.19" y="156.9" width="2.2" height="8.4" fill="#0a0a0a"/>
<rect x="946.84" y="157.6" width="0.9" height="7.0" fill="#ad3128"/>
<rect x="949.98" y="159.5" width="0.8" height="13.6" fill="#111"/>
<rect x="949.28" y="164.2" width="2.2" height="7.8" fill="#0a0a0a"/>
<rect x="949.93" y="164.9" width="0.9" height="6.4" fill="#ad3128"/>
<rect x="953.08" y="157.2" width="0.8" height="12.8" fill="#111"/>
<rect x="952.38" y="159.0" width="2.2" height="9.8" fill="#0a0a0a"/>
<rect x="953.03" y="159.7" width="0.9" height="8.4" fill="#143f1a"/>
<rect x="956.17" y="152.2" width="0.8" height="8.1" fill="#111"/>
<rect x="955.47" y="156.9" width="2.2" height="2.7" fill="#0a0a0a"/>
<rect x="956.12" y="157.6" width="0.9" height="1.3" fill="#ad3128"/>
<rect x="959.26" y="154.8" width="0.8" height="10.9" fill="#111"/>
<rect x="958.56" y="155.6" width="2.2" height="3.9" fill="#0a0a0a"/>
<rect x="959.21" y="156.3" width="0.9" height="2.5" fill="#143f1a"/>
</g>
<text x="1151.6" y="53.35" font-family='"Liberation Sans", sans-serif' font-size="9.3" fill="#131722" stroke="#131722" stroke-width="0.12" font-weight="normal" textLength="27.4" lengthAdjust="spacingAndGlyphs">750,00</text>
<text x="1151.6" y="76.75" font-family='"Liberation Sans", sans-serif' font-size="9.3" fill="#131722" stroke="#131722" stroke-width="0.12" font-weight="normal" textLength="27.4" lengthAdjust="spacingAndGlyphs">630,00</text>
<text x="1151.6" y="103.95" font-family='"Liberation Sans", sans-serif' font-size="9.3" fill="#131722" stroke="#131722" stroke-width="0.12" font-weight="normal" textLength="27.4" lengthAdjust="spacingAndGlyphs">510,00</text>
<text x="1151.6" y="188.85" font-family='"Liberation Sans", sans-serif' font-size="9.3" fill="#131722" stroke="#131722" stroke-width="0.12" font-weight="normal" textLength="27.4" lengthAdjust="spacingAndGlyphs">270,00</text>
<text x="1151.6" y="249.75" font-family='"Liberation Sans", sans-serif' font-size="9.3" fill="#131722" stroke="#131722" stroke-width="0.12" font-weight="normal" textLength="27.4" lengthAdjust="spacingAndGlyphs">170,00</text>
<text x="1151.6" y="306.85" font-family='"Liberation Sans", sans-serif' font-size="9.3" fill="#131722" stroke="#131722" stroke-width="0.12" font-weight="normal" textLength="27.4" lengthAdjust="spacingAndGlyphs">110,00</text>
<text x="1151.6" y="332.95" font-family='"Liberation Sans", sans-serif' font-size="9.3" fill="#131722" stroke="#131722" stroke-width="0.12" font-weight="normal" textLength="22.4" lengthAdjust="spacingAndGlyphs">90,00</text>
<text x="1151.6" y="358.95" font-family='"Liberation Sans", sans-serif' font-size="9.3" fill="#131722" stroke="#131722" stroke-width="0.12" font-weight="normal" textLength="22.4" lengthAdjust="spacingAndGlyphs">74,00</text>
<text x="1151.6" y="383.35" font-family='"Liberation Sans", sans-serif' font-size="9.3" fill="#131722" stroke="#131722" stroke-width="0.12" font-weight="normal" textLength="22.4" lengthAdjust="spacingAndGlyphs">61,50</text>
<text x="1151.6" y="406.75" font-family='"Liberation Sans", sans-serif' font-size="9.3" fill="#131722" stroke="#131722" stroke-width="0.12" font-weight="normal" textLength="22.4" lengthAdjust="spacingAndGlyphs">51,50</text>
<text x="1151.6" y="435.85" font-family='"Liberation Sans", sans-serif' font-size="9.3" fill="#131722" stroke="#131722" stroke-width="0.12" font-weight="normal" textLength="22.4" lengthAdjust="spacingAndGlyphs">41,50</text>
<text x="1151.6" y="459.85" font-family='"Liberation Sans", sans-serif' font-size="9.3" fill="#131722" stroke="#131722" stroke-width="0.12" font-weight="normal" textLength="22.4" lengthAdjust="spacingAndGlyphs">34,50</text>
<text x="1151.6" y="484.75" font-family='"Liberation Sans", sans-serif' font-size="9.3" fill="#131722" stroke="#131722" stroke-width="0.12" font-weight="normal" textLength="22.4" lengthAdjust="spacingAndGlyphs">28,50</text>
<text x="1151.6" y="510.05" font-family='"Liberation Sans", sans-serif' font-size="9.3" fill="#131722" stroke="#131722" stroke-width="0.12" font-weight="normal" textLength="22.4" lengthAdjust="spacingAndGlyphs">23,50</text>
<rect x="1145.8" y="101.2" width="36.4" height="13.6" rx="1.3" fill="#7e57c2"/>
<text x="1151.6" y="110.95" font-family='"Liberation Sans", sans-serif' font-size="9.3" fill="#fff" stroke="#fff" stroke-width="0.12" font-weight="normal" textLength="27.4" lengthAdjust="spacingAndGlyphs">488,54</text>
<rect x="1145.8" y="122.9" width="36.4" height="13.6" rx="1.3" fill="#7e57c2"/>
<text x="1151.6" y="132.65" font-family='"Liberation Sans", sans-serif' font-size="9.3" fill="#fff" stroke="#fff" stroke-width="0.12" font-weight="normal" textLength="27.4" lengthAdjust="spacingAndGlyphs">414,50</text>
<rect x="1145.8" y="165.5" width="36.4" height="13.6" rx="1.3" fill="#7e57c2"/>
<text x="1151.6" y="175.25" font-family='"Liberation Sans", sans-serif' font-size="9.3" fill="#fff" stroke="#fff" stroke-width="0.12" font-weight="normal" textLength="27.4" lengthAdjust="spacingAndGlyphs">300,13</text>
<rect x="1145.8" y="211.0" width="36.4" height="13.6" rx="1.3" fill="#7e57c2"/>
<text x="1151.6" y="220.75" font-family='"Liberation Sans", sans-serif' font-size="9.3" fill="#fff" stroke="#fff" stroke-width="0.12" font-weight="normal" textLength="27.4" lengthAdjust="spacingAndGlyphs">212,11</text>
<rect x="1145.8" y="231.3" width="36.4" height="13.6" rx="1.3" fill="#7e57c2"/>
<text x="1151.6" y="241.05" font-family='"Liberation Sans", sans-serif' font-size="9.3" fill="#fff" stroke="#fff" stroke-width="0.12" font-weight="normal" textLength="27.4" lengthAdjust="spacingAndGlyphs">182,00</text>
<rect x="1145.8" y="267.2" width="36.4" height="13.6" rx="1.3" fill="#7e57c2"/>
<text x="1151.6" y="276.95" font-family='"Liberation Sans", sans-serif' font-size="9.3" fill="#fff" stroke="#fff" stroke-width="0.12" font-weight="normal" textLength="27.4" lengthAdjust="spacingAndGlyphs">138,80</text>
<rect x="1145.8" y="149.1" width="36.4" height="13.6" rx="1.3" fill="#1b5e20"/>
<text x="1151.6" y="158.85" font-family='"Liberation Sans", sans-serif' font-size="9.3" fill="#fff" stroke="#fff" stroke-width="0.12" font-weight="normal" textLength="27.4" lengthAdjust="spacingAndGlyphs">340,01</text>
<rect x="1147.6" y="20.0" width="42.8" height="17.4" rx="2.5" fill="#fff" stroke="#eef0f4" stroke-width="0.8"/>
<text x="1153.7" y="31.9" font-family='"Liberation Sans", sans-serif' font-size="8.2" fill="#131722" stroke="#131722" stroke-width="0.12" textLength="13.4" lengthAdjust="spacingAndGlyphs">USD</text>
<text x="53.4" y="530.1" text-anchor="middle" font-family='"Liberation Sans", sans-serif' font-size="9" fill="#131722" font-weight="bold">2020</text>
<text x="133.4" y="530.1" text-anchor="middle" font-family='"Liberation Sans", sans-serif' font-size="9" fill="#131722" font-weight="normal">Jul</text>
<text x="214.3" y="530.1" text-anchor="middle" font-family='"Liberation Sans", sans-serif' font-size="9" fill="#131722" font-weight="bold">2021</text>
<text x="294.7" y="530.1" text-anchor="middle" font-family='"Liberation Sans", sans-serif' font-size="9" fill="#131722" font-weight="normal">Jul</text>
<text x="375.1" y="530.1" text-anchor="middle" font-family='"Liberation Sans", sans-serif' font-size="9" fill="#131722" font-weight="bold">2022</text>
<text x="455.5" y="530.1" text-anchor="middle" font-family='"Liberation Sans", sans-serif' font-size="9" fill="#131722" font-weight="normal">Jul</text>
<text x="535.8" y="530.1" text-anchor="middle" font-family='"Liberation Sans", sans-serif' font-size="9" fill="#131722" font-weight="bold">2023</text>
<text x="616.3" y="530.1" text-anchor="middle" font-family='"Liberation Sans", sans-serif' font-size="9" fill="#131722" font-weight="normal">Jul</text>
<text x="696.7" y="530.1" text-anchor="middle" font-family='"Liberation Sans", sans-serif' font-size="9" fill="#131722" font-weight="bold">2024</text>
<text x="777.2" y="530.1" text-anchor="middle" font-family='"Liberation Sans", sans-serif' font-size="9" fill="#131722" font-weight="normal">Jul</text>
<text x="861.1" y="530.1" text-anchor="middle" font-family='"Liberation Sans", sans-serif' font-size="9" fill="#131722" font-weight="bold">2025</text>
<text x="941.7" y="530.1" text-anchor="middle" font-family='"Liberation Sans", sans-serif' font-size="9" fill="#131722" font-weight="normal">Jul</text>
<text x="1021.8" y="530.1" text-anchor="middle" font-family='"Liberation Sans", sans-serif' font-size="9" fill="#131722" font-weight="bold">2026</text>
<text x="1102.1" y="530.1" text-anchor="middle" font-family='"Liberation Sans", sans-serif' font-size="9" fill="#131722" font-weight="normal">Jul</text>
<text x="6.6" y="12.5" font-family='"Liberation Sans", sans-serif' font-size="8.4" fill="#dedede" font-weight="bold" textLength="249" lengthAdjust="spacingAndGlyphs">KarstenKagels erstellt mit TradingView.com, Aug 25, 2025 12:20 UTC+2</text>
<text x="12.0" y="30.4" font-family='"Liberation Sans", sans-serif' font-size="8.4" fill="#131722" stroke="#131722" stroke-width="0.22" font-weight="normal" textLength="16.7" lengthAdjust="spacingAndGlyphs">TSLA</text>
<text x="31.3" y="30.6" font-family='"Liberation Sans", sans-serif' font-size="10" fill="#131722" stroke="#131722" stroke-width="0.22" font-weight="bold" textLength="2.6" lengthAdjust="spacingAndGlyphs">·</text>
<text x="37.0" y="30.4" font-family='"Liberation Sans", sans-serif' font-size="8.4" fill="#131722" stroke="#131722" stroke-width="0.22" font-weight="normal" textLength="9.3" lengthAdjust="spacingAndGlyphs">1W</text>
<text x="49.5" y="30.6" font-family='"Liberation Sans", sans-serif' font-size="10" fill="#131722" stroke="#131722" stroke-width="0.22" font-weight="bold" textLength="2.6" lengthAdjust="spacingAndGlyphs">·</text>
<text x="54.8" y="30.4" font-family='"Liberation Sans", sans-serif' font-size="8.4" fill="#131722" stroke="#131722" stroke-width="0.22" font-weight="normal" textLength="28.3" lengthAdjust="spacingAndGlyphs">NASDAQ</text>
<text x="88.1" y="30.4" font-family='"Liberation Sans", sans-serif' font-size="8.4" fill="#131722" stroke="#131722" stroke-width="0.22" font-weight="normal" textLength="27.9" lengthAdjust="spacingAndGlyphs">O329,62</text>
<text x="121.25" y="30.4" font-family='"Liberation Sans", sans-serif' font-size="8.4" fill="#131722" stroke="#131722" stroke-width="0.22" font-weight="normal" textLength="28.15" lengthAdjust="spacingAndGlyphs">H340,55</text>
<text x="154.4" y="30.4" font-family='"Liberation Sans", sans-serif' font-size="8.4" fill="#131722" stroke="#131722" stroke-width="0.22" font-weight="normal" textLength="27.1" lengthAdjust="spacingAndGlyphs">L314,60</text>
<text x="186.9" y="30.4" font-family='"Liberation Sans", sans-serif' font-size="8.4" fill="#131722" stroke="#131722" stroke-width="0.22" font-weight="normal" textLength="26.85" lengthAdjust="spacingAndGlyphs">C340,01</text>
<text x="11.9" y="41.3" font-family='"Liberation Sans", sans-serif' font-size="8.4" fill="#131722" stroke="#131722" stroke-width="0.22" font-weight="normal" textLength="14.0" lengthAdjust="spacingAndGlyphs">SMA</text>
<text x="30.6" y="41.3" font-family='"Liberation Sans", sans-serif' font-size="8.4" fill="#5b8cff" stroke="#5b8cff" stroke-width="0.22" font-weight="normal" textLength="23.4" lengthAdjust="spacingAndGlyphs">312,18</text>
<text x="11.9" y="52.3" font-family='"Liberation Sans", sans-serif' font-size="8.4" fill="#131722" stroke="#131722" stroke-width="0.22" font-weight="normal" textLength="14.0" lengthAdjust="spacingAndGlyphs">SMA</text>
<text x="30.6" y="52.3" font-family='"Liberation Sans", sans-serif' font-size="8.4" fill="#4f8a55" stroke="#4f8a55" stroke-width="0.22" font-weight="normal" textLength="23.4" lengthAdjust="spacingAndGlyphs">317,05</text>
<g fill="#d4d4d4">
<path d="M8.0 552.2 h7.9 v9.7 h-4.4 v-6.0 h-3.5 z"/>
<circle cx="18.85" cy="554.15" r="1.75"/>
<path d="M22.4 552.2 h5.0 l-3.4 9.7 h-5.1 z"/>
</g>
<text x="32.1" y="562.0" font-family='"Liberation Sans", sans-serif' font-size="14.1" fill="#d6d6d6" font-weight="bold" textLength="78.8" lengthAdjust="spacingAndGlyphs">TradingView</text>
</svg>
</body></html>
